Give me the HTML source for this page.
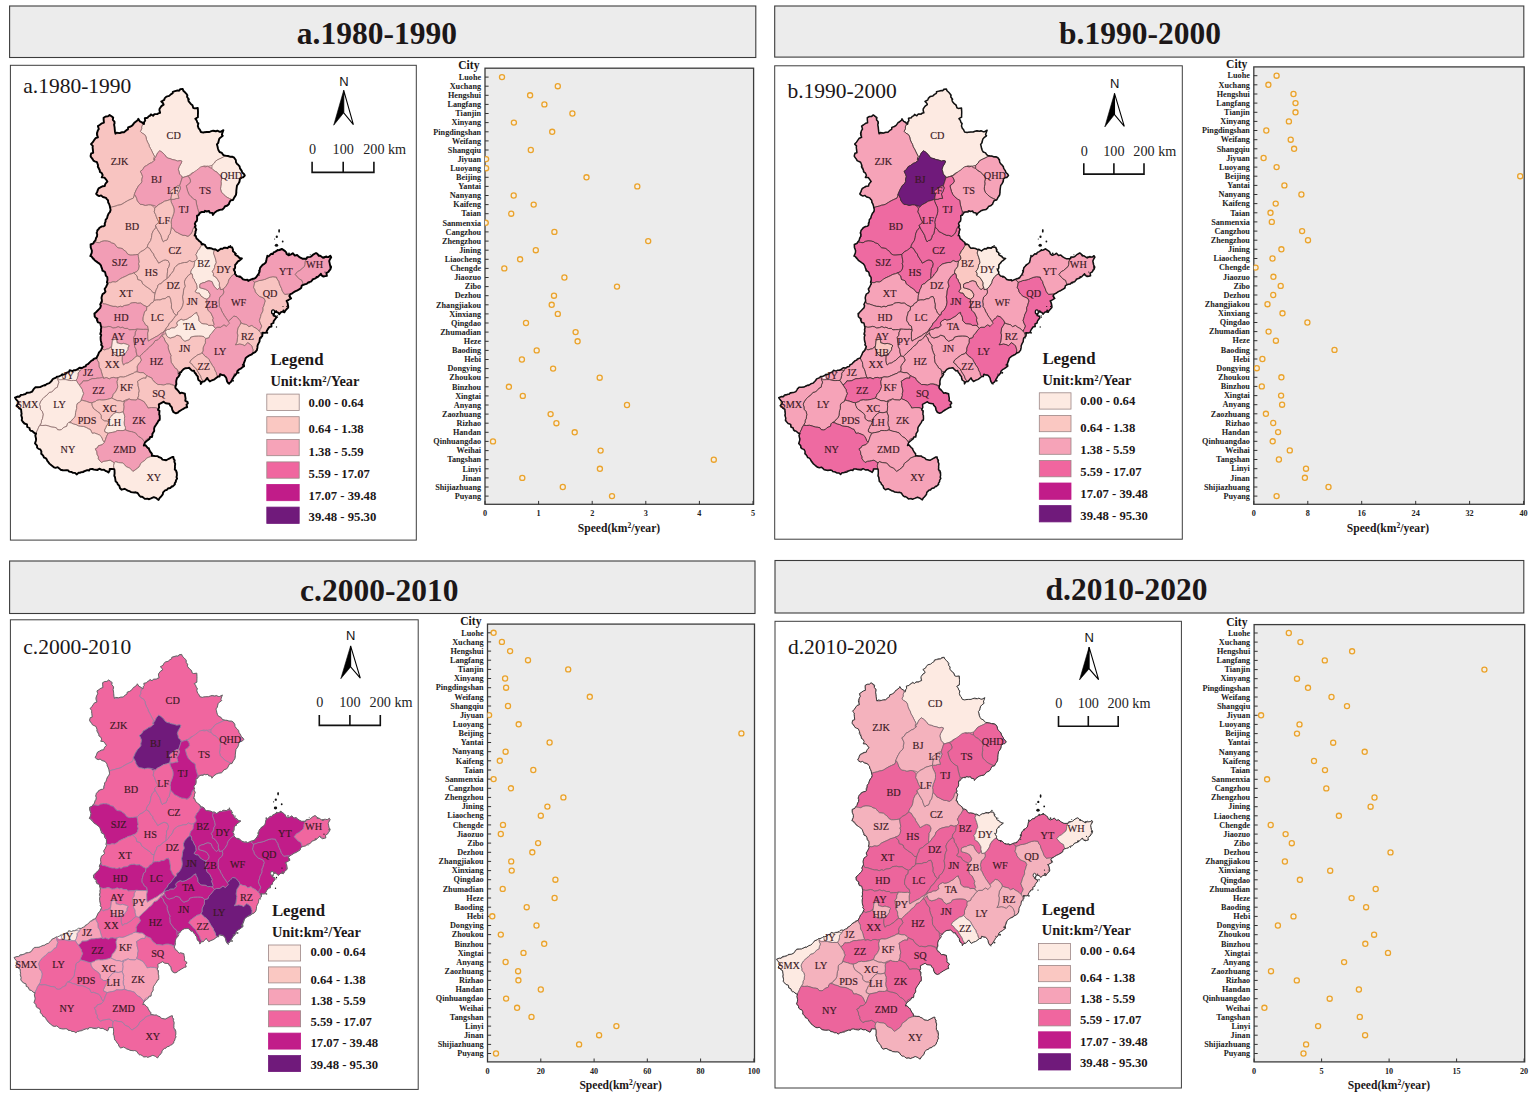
<!DOCTYPE html>
<html lang="en"><head><meta charset="utf-8"><title>Urban expansion speed 1980-2020</title>
<style>html,body{margin:0;padding:0;background:#fff}svg{display:block}.t{font-family:'Liberation Serif','Times New Roman',serif;font-weight:bold;fill:#1c1718}.r{font-family:'Liberation Serif','Times New Roman',serif;fill:#1c1718}.ml{font-family:'Liberation Serif','Times New Roman',serif;font-size:10.2px;fill:#3a1822;stroke:#3a1822;stroke-width:0.15;text-anchor:middle}.cl{font-family:'Liberation Serif','Times New Roman',serif;font-weight:bold;font-size:8.2px;fill:#222;text-anchor:end}.tk{font-family:'Liberation Serif','Times New Roman',serif;font-weight:bold;font-size:8.2px;fill:#222;text-anchor:middle}.lg{font-family:'Liberation Serif','Times New Roman',serif;font-weight:bold;font-size:12.7px;fill:#1c1718}.sbl{font-family:'Liberation Serif','Times New Roman',serif;font-size:14.2px;fill:#222;text-anchor:middle}.dot{fill:#f6efe4;stroke:#eaa32c;stroke-width:1.3}</style></head><body>
<svg width="1535" height="1101" viewBox="0 0 1535 1101">
<rect width="1535" height="1101" fill="#fff"/>
<defs>
<path id="m-outline" d="M92.8,149.2 92.6,147.4 92.8,145.9 91,144.1 92.8,142.2 94.5,139.6 95.5,138.2 97.9,137.3 97.1,135.3 96.9,133.3 97.8,130.6 98.8,129 97.9,126.1 99.6,125 101.9,123.3 103.9,122.7 103.6,119.2 103.6,117.7 105.7,116.5 107.9,116.4 109.6,114.9 111.5,116.3 113.2,117.5 112.8,119.8 114.5,121.7 114.6,123.2 114.1,124.6 114.6,127.4 114.7,128.8 115,131.7 115.5,133.7 116.5,132.6 119.7,133.1 121.2,132.5 122.1,132.3 124,132.3 124.6,131.8 126.4,130.2 128,129.3 128.1,127.4 130.7,126.5 132.4,125.4 133.7,123.6 134.5,122.5 135.1,122.3 137.9,120.1 138.3,118.8 139.9,121.4 141.9,122.3 143.9,124.1 144.2,121.8 145.2,120.7 144.8,118.3 147.6,117.8 148.5,116.4 149.9,115.9 150.9,114.4 153.1,115.8 154.4,114.1 157.7,114 158.2,113.3 160.1,112.8 159.4,110 159.6,108.7 161.4,106.1 163.6,104.6 163.1,103.2 161.3,101.5 164.2,99.9 164.6,98.4 166.4,96.6 169.2,95.9 170.8,94.4 172.7,93.3 172.8,91.8 175,91.1 177.5,90.4 179.1,90.7 180.1,89.2 182.7,88.9 183.3,90.7 185,92.3 186.7,94.2 187.4,95.2 187.1,97 188.9,99.3 188.2,99.6 188.7,101.4 190.8,103.9 192.5,105.2 193.2,107.8 194.6,108.4 197.8,108 198,111.5 198,113.1 197.9,115.1 197.9,117.2 195.3,118.7 196.6,120.3 197.4,122.7 198.4,123.3 197.8,125.9 198.7,128.5 199.7,129.4 200.9,132 203.4,132.6 204.3,132.2 206.8,132 209.5,132 211.3,131.2 213.2,130.7 215.9,131.3 217.3,130.7 219.3,131.7 220.5,131.8 223.4,130.2 222.2,133.5 221.9,134.8 222.8,135.8 220.3,137.7 219.2,138.9 218.6,141.3 218.3,142.8 216.9,144.4 217.4,146 217.9,148.3 218.5,150.3 219.6,152 221.9,152.9 222.9,154.6 224.1,155.4 226.5,155.9 228,156 229.9,156.7 232.6,156.8 234.2,157.7 235.8,160 236,162.2 237.1,163.9 238.2,164.8 239.6,166.4 240,168.4 241.7,170.9 242.2,172.5 244,174 244.8,175.5 243.1,177.4 242,177.4 239.8,178.9 239.7,180.5 239.5,181.7 238.3,183.9 237,185.5 236.6,188.3 236.3,191.2 236.4,192 236,194.8 235,196.5 234.3,197.3 233,200 230.6,200.4 229.3,202.8 229,204 227.4,205.5 224.8,206.5 223.9,208.1 222.4,209.5 219.7,209.9 218.2,210.5 217.6,210.6 214.5,212.8 212.9,215 212.4,213 209.7,212.6 209,211 206.7,211.5 205,210.8 204.3,212.1 202,211.9 200.1,212.8 198.5,215.3 197,215.7 197.2,218.8 196.8,221.1 195.6,222.1 194.8,223.8 195.7,225.9 194.8,226.8 196.3,229.4 195.4,231.8 195.5,232.7 194.6,235.6 195.7,235.7 196.5,238.6 198.1,239.8 199.2,241 201.2,242.5 201.5,244.2 203,244 205.2,245.2 205.6,246.4 207.2,248.2 209.2,248 211.8,248.5 213.4,249.4 215.3,249.3 217.8,251 219.4,249.7 221.1,248.6 222.5,248.9 224,247.6 225.6,247.7 227.5,248.2 228.7,246.8 231.3,247.2 232.2,247.5 232.8,249 232.9,251.3 234.9,252.7 235.2,254.6 235.8,255.2 237.8,256.1 239.5,258 241.9,258.5 238.9,260.9 238,261.4 235.9,264.1 235.2,264.7 235.1,267.9 233.9,270.1 235.1,272 234.9,273.6 236.9,276.1 239.7,276.4 241.3,277.5 243,279.4 245.3,279.9 247.6,279.7 248.2,280.9 250.7,279.6 253.2,278.6 254,278.7 256.1,277.5 256.2,277.1 258.1,274.6 259.6,271.7 259.7,270 260.1,267.8 261.5,266.2 262.7,264.6 263.8,264.2 265.8,262.5 266.4,260.3 266.6,258.7 267.2,256.7 268.6,256.3 271.1,253.8 272.8,254.1 273.6,252.4 275,251.9 277.4,250.4 279.4,250 282,249 282.9,249.6 285.1,251.1 286.2,252.3 286.6,253.9 288.6,255.3 291.1,254.4 292.8,253.2 294.8,255.6 297.1,255 298.8,256.6 300.4,257.7 302.4,258.7 303.4,258.8 306.5,258.7 307.2,257.1 310.3,256.9 311.1,256.5 313.6,254.3 316,253 317.4,253.9 319.1,255.8 320.3,255.8 323,257.7 323.7,257.5 326.4,256.5 326.9,257 328.6,257.1 330.3,255.7 331.2,257.2 329.6,260 329.2,261.1 329.6,262.9 330,265 331.1,267 330.4,269.3 329.3,270.6 328.6,271.8 326.4,273.1 326.9,275.8 325.2,276.2 323.5,276.6 321.2,275.1 320.9,273.8 318.2,276.6 317.3,277.2 315.5,278.3 312.6,279.3 312.6,279.8 310.9,281.7 308.2,282.4 306.7,283.9 304.8,284.3 303.3,284.8 301.7,285.6 301.2,288 299.5,289.1 296.9,290.7 295.1,291.4 292.9,292.8 292.3,293.4 290.5,294.1 289.3,296.1 291.1,298.4 288.7,299.8 286.7,300.9 287.6,303 288.2,306.2 288.2,307.5 286.2,309.7 285.4,310.5 284.4,312.3 282.6,311.7 281,312.2 279.3,314.2 278.5,312.8 276.4,311.8 274.2,312.1 273.5,312.5 273.8,314.5 273.6,315.6 275.9,316.3 276.2,317.8 274.7,319.8 273.7,321.1 273.4,323 271.3,324 271.5,326.6 269.3,327 267.7,329.4 266.8,331 266.5,332.5 265,332.9 262.6,332.8 262.3,336 261.5,336.8 260,338 259.6,340.3 259.5,341.6 258.5,343.4 257.7,345.2 257.5,345.8 257.4,347.9 256.9,350.1 255.2,352.2 252.7,353.3 251.8,354.4 248.9,355.7 247.8,356.4 246.9,357.1 245.6,358.2 245.1,360.1 243.7,363.6 244.1,366.1 242.4,367.3 240.7,368.7 238.8,369.7 237.4,371 237,373 234.9,375.6 233.9,376.2 233.5,377.5 232.5,378.9 231.6,380.8 230.7,382.2 228.5,383.6 227.1,381.4 226.5,379 226.5,378.6 225.9,377.3 224.2,375.3 222.3,375.1 220.1,374.2 219.6,376.5 218.1,376.5 214.8,379.1 213.9,379.6 211.9,380.3 209.8,381.5 208,379.4 207.3,377.9 205.3,380.4 204.3,381.4 202.2,381.7 200.8,383.9 200.6,381.5 198.4,380 197.8,377.8 197.9,376.7 196.1,374.7 196,374 194.6,372.5 193.9,370.6 192.3,370.9 190.7,369.5 189.2,367.8 187.6,368.1 185.5,368.2 183.6,369.1 181.7,371.1 181.1,372.2 179.1,373.3 179.9,374.3 178.6,376.6 177.1,378 176.4,380.2 176.2,381.9 176.4,384.2 175.6,386 175.4,387.9 176,388.5 177.1,389.5 178.4,391.1 180.1,393.3 181.6,392.7 184.9,393.7 185.1,395.6 185.6,398.7 185.3,400.6 187.6,402.1 187.9,403.4 186.5,404.6 187.2,407.2 185.5,407.5 182.9,409.1 182.1,409.5 179.8,411 179.3,411.2 178,412.5 175.9,413.3 173.5,412.2 172.5,410.3 172.3,410 171.8,407.3 170,405.3 169.5,403.7 169,403.7 165.7,403.3 164,402.2 163.8,401.7 161.6,402.9 158.8,404.4 159.1,407.3 158,409.9 159.5,410.8 159.2,414.5 159.7,415.5 159.8,418.9 159.6,420.2 158.7,420.2 157.4,422.9 156.4,424.2 155.9,425 154.5,427.1 154.1,428.8 154.2,430.9 152.3,433.9 152.4,435.1 152,437 150.1,436.9 149.6,438.7 147.4,440.5 146.3,441.3 144.9,442.7 143.8,445.5 145.4,445.1 147.7,447.8 148.9,448.4 149,449.3 150.4,452 151.9,453.7 151.8,455.7 152.9,455.7 155.3,456.1 157.7,456.1 158.6,457 161.1,457.9 162.5,459.6 165.2,460 166.2,460.3 168.8,458.8 172.2,457 173.4,456.9 173.5,458.6 174.7,460.3 174.4,461.8 175.2,463.8 174.9,466.5 175,467.4 174.8,469.6 176.1,470.6 176.8,472.5 176.9,475.4 176.5,477.2 177.1,478.4 175.9,480.4 175.9,481.6 174.7,483.4 174.9,484.4 172.6,486.5 171.9,486.3 170.3,488 167.9,488.5 166.8,490 165.4,490.1 163.1,492.4 162.8,494.3 162.2,495.2 160.6,497.1 159.8,497.7 158.6,499.9 157.2,498.9 156.4,498.2 153.8,497.2 151,498.4 148.7,499.3 147.5,498.6 144.8,498.9 143.1,497.4 141.7,496.6 140.7,496.8 139.3,495.6 137.6,493 135.6,492.3 134.4,492.5 130.9,492.1 130,491.4 127.7,490.7 126.7,490 124.6,488.8 121.7,489.7 120,488.2 119.3,485.7 117.7,484.2 117.2,482.8 115.6,481.4 115.4,479.9 115,477.2 114.3,475.9 114.6,473.2 114.5,470 114.2,469.1 111.4,468.9 109.7,469 109.7,470.4 108.5,472.4 106.5,471.1 105.7,471 104,469.7 101.6,469.9 99.4,468.7 97.3,470.1 93.9,469.6 92.3,469 89.9,469.1 89.1,470.6 87.3,470.1 84.1,471.4 83.3,472 80.7,472.4 79.9,472.8 78.4,472.8 76.9,474.4 75.1,472.9 73,472.9 71.6,472 69,471.6 68.3,470.4 66.9,470.1 64.2,470.4 62.8,470.2 60.5,469.7 59.2,468.4 57.7,467.2 55.6,467.8 53.9,467.3 51.4,465.3 49.4,463.6 48.4,462.2 47.3,460.8 46.7,459.4 45.7,458.1 43.9,457.5 43.3,455.9 41.8,454.1 41.2,453.8 41.4,451.5 40.3,449.4 38.6,448.9 37.1,447.6 37,445.7 35,443.4 35.9,440.7 36.1,439 35.3,435.6 36.1,433.4 34.7,433.3 32.2,431 30.9,430.9 29.8,429.9 29.5,428 27.2,427 27,424.4 24.4,423.5 22.6,421.5 21.7,420.3 22.1,418.1 21.2,415.2 21.6,413.7 21.3,412 21.1,409.3 19.2,408.4 17.9,406.5 16.5,405.8 18.5,403.1 18.6,402.3 17.9,401.5 15.7,398.8 15,397.6 17.9,396.5 19.5,396.7 20.9,394.9 23.1,394.6 25.6,394 26.6,392.8 29.7,392.6 32.1,391.6 33.3,389.8 33.6,389.1 35.3,387.3 37.7,387.2 40,387.1 41.6,386.3 44.6,385 44.8,385.5 47.2,383.8 49.4,383.1 51,381.5 51.9,380.5 52.6,379.3 53,378.9 56,377.6 56.9,376.6 58.5,376.6 60.9,375.5 62.3,374.3 62.7,374.8 65.6,373.8 66.3,372.9 69,371.8 69.7,370.2 72.5,371.1 74.1,370.2 75.6,370.2 77.8,369.2 78.4,368.6 79.5,367.8 82.1,368 84.1,366.7 85.7,366.4 86.1,365 88.3,363.9 89.4,362.6 91.5,360.6 92.8,360.1 93.7,358.9 96.5,358 97.7,355.5 97.9,355.3 99,352.4 101,350.4 101.4,349.4 102.6,346.6 101.1,344.8 101.7,343.9 100.9,341 100.7,339.6 100.6,337 101.2,335 100.3,334.1 101.1,331.1 100.8,329.8 101.3,327.8 100.9,326 100.2,322.9 97.9,322.4 96.8,319.7 97.4,318.9 95.8,317.8 94.7,316.7 94.4,313.6 95.7,312.6 97.2,311 98.8,309.3 100.2,307.9 100.9,305.8 100.2,304.5 101.9,301 101.8,299.6 101.5,298 101.9,296 102.6,294.1 104.2,293.2 105.5,291.6 104.6,289 106,287 107,284.8 107.7,283.8 106.9,282.3 107.5,279.9 107.3,277.2 105.8,275.6 105.3,273 104.9,271.9 102.4,270.7 102.2,269.2 101.6,267.7 100.9,265.4 99.4,263.6 97.9,262.6 96.9,261.9 94.6,260.3 93.9,259.1 93.3,258.8 91.2,256.2 90.3,256.1 91.7,252.8 91.9,250.7 91.3,249 90.7,247.4 90.6,244.5 93.5,243.3 93.8,242.2 95.4,240.4 96.1,237.8 97,236.4 97.2,234.4 96.6,233 97.2,231.2 97.3,230.5 99.4,228.1 99.2,228 101.8,226.4 103.7,226.2 104.8,225.4 104.7,223.3 105.5,221.7 105.6,219.8 107.1,218.1 107.5,216.2 108.7,213.3 109.9,212.1 110.6,209.9 110,207.3 109.8,206 108.9,203.5 108.2,202.6 108,200.2 106.8,199.1 106,197.9 102.9,197 101.1,195.4 99.2,196.1 97.3,195.1 96.1,193.9 97.3,191.7 97.6,190.5 98.6,188.3 100.4,187.4 102.5,186.2 104.8,186 105.1,184.5 105.7,183.4 107.4,181.5 105.9,179.3 104.5,177.6 101.7,177.4 102.7,175.2 101.7,173 99.9,171.9 99.7,170.2 98.4,167.8 97.8,166.8 98,165.1 96.9,162.2 94.8,161.3 93.4,160.6 92.8,159.4 90.7,156.6 90.6,155.7 91.2,153.3 93.2,152.8Z"/>
<clipPath id="mapclip"><path d="M92.8,149.2 92.6,147.4 92.8,145.9 91,144.1 92.8,142.2 94.5,139.6 95.5,138.2 97.9,137.3 97.1,135.3 96.9,133.3 97.8,130.6 98.8,129 97.9,126.1 99.6,125 101.9,123.3 103.9,122.7 103.6,119.2 103.6,117.7 105.7,116.5 107.9,116.4 109.6,114.9 111.5,116.3 113.2,117.5 112.8,119.8 114.5,121.7 114.6,123.2 114.1,124.6 114.6,127.4 114.7,128.8 115,131.7 115.5,133.7 116.5,132.6 119.7,133.1 121.2,132.5 122.1,132.3 124,132.3 124.6,131.8 126.4,130.2 128,129.3 128.1,127.4 130.7,126.5 132.4,125.4 133.7,123.6 134.5,122.5 135.1,122.3 137.9,120.1 138.3,118.8 139.9,121.4 141.9,122.3 143.9,124.1 144.2,121.8 145.2,120.7 144.8,118.3 147.6,117.8 148.5,116.4 149.9,115.9 150.9,114.4 153.1,115.8 154.4,114.1 157.7,114 158.2,113.3 160.1,112.8 159.4,110 159.6,108.7 161.4,106.1 163.6,104.6 163.1,103.2 161.3,101.5 164.2,99.9 164.6,98.4 166.4,96.6 169.2,95.9 170.8,94.4 172.7,93.3 172.8,91.8 175,91.1 177.5,90.4 179.1,90.7 180.1,89.2 182.7,88.9 183.3,90.7 185,92.3 186.7,94.2 187.4,95.2 187.1,97 188.9,99.3 188.2,99.6 188.7,101.4 190.8,103.9 192.5,105.2 193.2,107.8 194.6,108.4 197.8,108 198,111.5 198,113.1 197.9,115.1 197.9,117.2 195.3,118.7 196.6,120.3 197.4,122.7 198.4,123.3 197.8,125.9 198.7,128.5 199.7,129.4 200.9,132 203.4,132.6 204.3,132.2 206.8,132 209.5,132 211.3,131.2 213.2,130.7 215.9,131.3 217.3,130.7 219.3,131.7 220.5,131.8 223.4,130.2 222.2,133.5 221.9,134.8 222.8,135.8 220.3,137.7 219.2,138.9 218.6,141.3 218.3,142.8 216.9,144.4 217.4,146 217.9,148.3 218.5,150.3 219.6,152 221.9,152.9 222.9,154.6 224.1,155.4 226.5,155.9 228,156 229.9,156.7 232.6,156.8 234.2,157.7 235.8,160 236,162.2 237.1,163.9 238.2,164.8 239.6,166.4 240,168.4 241.7,170.9 242.2,172.5 244,174 244.8,175.5 243.1,177.4 242,177.4 239.8,178.9 239.7,180.5 239.5,181.7 238.3,183.9 237,185.5 236.6,188.3 236.3,191.2 236.4,192 236,194.8 235,196.5 234.3,197.3 233,200 230.6,200.4 229.3,202.8 229,204 227.4,205.5 224.8,206.5 223.9,208.1 222.4,209.5 219.7,209.9 218.2,210.5 217.6,210.6 214.5,212.8 212.9,215 212.4,213 209.7,212.6 209,211 206.7,211.5 205,210.8 204.3,212.1 202,211.9 200.1,212.8 198.5,215.3 197,215.7 197.2,218.8 196.8,221.1 195.6,222.1 194.8,223.8 195.7,225.9 194.8,226.8 196.3,229.4 195.4,231.8 195.5,232.7 194.6,235.6 195.7,235.7 196.5,238.6 198.1,239.8 199.2,241 201.2,242.5 201.5,244.2 203,244 205.2,245.2 205.6,246.4 207.2,248.2 209.2,248 211.8,248.5 213.4,249.4 215.3,249.3 217.8,251 219.4,249.7 221.1,248.6 222.5,248.9 224,247.6 225.6,247.7 227.5,248.2 228.7,246.8 231.3,247.2 232.2,247.5 232.8,249 232.9,251.3 234.9,252.7 235.2,254.6 235.8,255.2 237.8,256.1 239.5,258 241.9,258.5 238.9,260.9 238,261.4 235.9,264.1 235.2,264.7 235.1,267.9 233.9,270.1 235.1,272 234.9,273.6 236.9,276.1 239.7,276.4 241.3,277.5 243,279.4 245.3,279.9 247.6,279.7 248.2,280.9 250.7,279.6 253.2,278.6 254,278.7 256.1,277.5 256.2,277.1 258.1,274.6 259.6,271.7 259.7,270 260.1,267.8 261.5,266.2 262.7,264.6 263.8,264.2 265.8,262.5 266.4,260.3 266.6,258.7 267.2,256.7 268.6,256.3 271.1,253.8 272.8,254.1 273.6,252.4 275,251.9 277.4,250.4 279.4,250 282,249 282.9,249.6 285.1,251.1 286.2,252.3 286.6,253.9 288.6,255.3 291.1,254.4 292.8,253.2 294.8,255.6 297.1,255 298.8,256.6 300.4,257.7 302.4,258.7 303.4,258.8 306.5,258.7 307.2,257.1 310.3,256.9 311.1,256.5 313.6,254.3 316,253 317.4,253.9 319.1,255.8 320.3,255.8 323,257.7 323.7,257.5 326.4,256.5 326.9,257 328.6,257.1 330.3,255.7 331.2,257.2 329.6,260 329.2,261.1 329.6,262.9 330,265 331.1,267 330.4,269.3 329.3,270.6 328.6,271.8 326.4,273.1 326.9,275.8 325.2,276.2 323.5,276.6 321.2,275.1 320.9,273.8 318.2,276.6 317.3,277.2 315.5,278.3 312.6,279.3 312.6,279.8 310.9,281.7 308.2,282.4 306.7,283.9 304.8,284.3 303.3,284.8 301.7,285.6 301.2,288 299.5,289.1 296.9,290.7 295.1,291.4 292.9,292.8 292.3,293.4 290.5,294.1 289.3,296.1 291.1,298.4 288.7,299.8 286.7,300.9 287.6,303 288.2,306.2 288.2,307.5 286.2,309.7 285.4,310.5 284.4,312.3 282.6,311.7 281,312.2 279.3,314.2 278.5,312.8 276.4,311.8 274.2,312.1 273.5,312.5 273.8,314.5 273.6,315.6 275.9,316.3 276.2,317.8 274.7,319.8 273.7,321.1 273.4,323 271.3,324 271.5,326.6 269.3,327 267.7,329.4 266.8,331 266.5,332.5 265,332.9 262.6,332.8 262.3,336 261.5,336.8 260,338 259.6,340.3 259.5,341.6 258.5,343.4 257.7,345.2 257.5,345.8 257.4,347.9 256.9,350.1 255.2,352.2 252.7,353.3 251.8,354.4 248.9,355.7 247.8,356.4 246.9,357.1 245.6,358.2 245.1,360.1 243.7,363.6 244.1,366.1 242.4,367.3 240.7,368.7 238.8,369.7 237.4,371 237,373 234.9,375.6 233.9,376.2 233.5,377.5 232.5,378.9 231.6,380.8 230.7,382.2 228.5,383.6 227.1,381.4 226.5,379 226.5,378.6 225.9,377.3 224.2,375.3 222.3,375.1 220.1,374.2 219.6,376.5 218.1,376.5 214.8,379.1 213.9,379.6 211.9,380.3 209.8,381.5 208,379.4 207.3,377.9 205.3,380.4 204.3,381.4 202.2,381.7 200.8,383.9 200.6,381.5 198.4,380 197.8,377.8 197.9,376.7 196.1,374.7 196,374 194.6,372.5 193.9,370.6 192.3,370.9 190.7,369.5 189.2,367.8 187.6,368.1 185.5,368.2 183.6,369.1 181.7,371.1 181.1,372.2 179.1,373.3 179.9,374.3 178.6,376.6 177.1,378 176.4,380.2 176.2,381.9 176.4,384.2 175.6,386 175.4,387.9 176,388.5 177.1,389.5 178.4,391.1 180.1,393.3 181.6,392.7 184.9,393.7 185.1,395.6 185.6,398.7 185.3,400.6 187.6,402.1 187.9,403.4 186.5,404.6 187.2,407.2 185.5,407.5 182.9,409.1 182.1,409.5 179.8,411 179.3,411.2 178,412.5 175.9,413.3 173.5,412.2 172.5,410.3 172.3,410 171.8,407.3 170,405.3 169.5,403.7 169,403.7 165.7,403.3 164,402.2 163.8,401.7 161.6,402.9 158.8,404.4 159.1,407.3 158,409.9 159.5,410.8 159.2,414.5 159.7,415.5 159.8,418.9 159.6,420.2 158.7,420.2 157.4,422.9 156.4,424.2 155.9,425 154.5,427.1 154.1,428.8 154.2,430.9 152.3,433.9 152.4,435.1 152,437 150.1,436.9 149.6,438.7 147.4,440.5 146.3,441.3 144.9,442.7 143.8,445.5 145.4,445.1 147.7,447.8 148.9,448.4 149,449.3 150.4,452 151.9,453.7 151.8,455.7 152.9,455.7 155.3,456.1 157.7,456.1 158.6,457 161.1,457.9 162.5,459.6 165.2,460 166.2,460.3 168.8,458.8 172.2,457 173.4,456.9 173.5,458.6 174.7,460.3 174.4,461.8 175.2,463.8 174.9,466.5 175,467.4 174.8,469.6 176.1,470.6 176.8,472.5 176.9,475.4 176.5,477.2 177.1,478.4 175.9,480.4 175.9,481.6 174.7,483.4 174.9,484.4 172.6,486.5 171.9,486.3 170.3,488 167.9,488.5 166.8,490 165.4,490.1 163.1,492.4 162.8,494.3 162.2,495.2 160.6,497.1 159.8,497.7 158.6,499.9 157.2,498.9 156.4,498.2 153.8,497.2 151,498.4 148.7,499.3 147.5,498.6 144.8,498.9 143.1,497.4 141.7,496.6 140.7,496.8 139.3,495.6 137.6,493 135.6,492.3 134.4,492.5 130.9,492.1 130,491.4 127.7,490.7 126.7,490 124.6,488.8 121.7,489.7 120,488.2 119.3,485.7 117.7,484.2 117.2,482.8 115.6,481.4 115.4,479.9 115,477.2 114.3,475.9 114.6,473.2 114.5,470 114.2,469.1 111.4,468.9 109.7,469 109.7,470.4 108.5,472.4 106.5,471.1 105.7,471 104,469.7 101.6,469.9 99.4,468.7 97.3,470.1 93.9,469.6 92.3,469 89.9,469.1 89.1,470.6 87.3,470.1 84.1,471.4 83.3,472 80.7,472.4 79.9,472.8 78.4,472.8 76.9,474.4 75.1,472.9 73,472.9 71.6,472 69,471.6 68.3,470.4 66.9,470.1 64.2,470.4 62.8,470.2 60.5,469.7 59.2,468.4 57.7,467.2 55.6,467.8 53.9,467.3 51.4,465.3 49.4,463.6 48.4,462.2 47.3,460.8 46.7,459.4 45.7,458.1 43.9,457.5 43.3,455.9 41.8,454.1 41.2,453.8 41.4,451.5 40.3,449.4 38.6,448.9 37.1,447.6 37,445.7 35,443.4 35.9,440.7 36.1,439 35.3,435.6 36.1,433.4 34.7,433.3 32.2,431 30.9,430.9 29.8,429.9 29.5,428 27.2,427 27,424.4 24.4,423.5 22.6,421.5 21.7,420.3 22.1,418.1 21.2,415.2 21.6,413.7 21.3,412 21.1,409.3 19.2,408.4 17.9,406.5 16.5,405.8 18.5,403.1 18.6,402.3 17.9,401.5 15.7,398.8 15,397.6 17.9,396.5 19.5,396.7 20.9,394.9 23.1,394.6 25.6,394 26.6,392.8 29.7,392.6 32.1,391.6 33.3,389.8 33.6,389.1 35.3,387.3 37.7,387.2 40,387.1 41.6,386.3 44.6,385 44.8,385.5 47.2,383.8 49.4,383.1 51,381.5 51.9,380.5 52.6,379.3 53,378.9 56,377.6 56.9,376.6 58.5,376.6 60.9,375.5 62.3,374.3 62.7,374.8 65.6,373.8 66.3,372.9 69,371.8 69.7,370.2 72.5,371.1 74.1,370.2 75.6,370.2 77.8,369.2 78.4,368.6 79.5,367.8 82.1,368 84.1,366.7 85.7,366.4 86.1,365 88.3,363.9 89.4,362.6 91.5,360.6 92.8,360.1 93.7,358.9 96.5,358 97.7,355.5 97.9,355.3 99,352.4 101,350.4 101.4,349.4 102.6,346.6 101.1,344.8 101.7,343.9 100.9,341 100.7,339.6 100.6,337 101.2,335 100.3,334.1 101.1,331.1 100.8,329.8 101.3,327.8 100.9,326 100.2,322.9 97.9,322.4 96.8,319.7 97.4,318.9 95.8,317.8 94.7,316.7 94.4,313.6 95.7,312.6 97.2,311 98.8,309.3 100.2,307.9 100.9,305.8 100.2,304.5 101.9,301 101.8,299.6 101.5,298 101.9,296 102.6,294.1 104.2,293.2 105.5,291.6 104.6,289 106,287 107,284.8 107.7,283.8 106.9,282.3 107.5,279.9 107.3,277.2 105.8,275.6 105.3,273 104.9,271.9 102.4,270.7 102.2,269.2 101.6,267.7 100.9,265.4 99.4,263.6 97.9,262.6 96.9,261.9 94.6,260.3 93.9,259.1 93.3,258.8 91.2,256.2 90.3,256.1 91.7,252.8 91.9,250.7 91.3,249 90.7,247.4 90.6,244.5 93.5,243.3 93.8,242.2 95.4,240.4 96.1,237.8 97,236.4 97.2,234.4 96.6,233 97.2,231.2 97.3,230.5 99.4,228.1 99.2,228 101.8,226.4 103.7,226.2 104.8,225.4 104.7,223.3 105.5,221.7 105.6,219.8 107.1,218.1 107.5,216.2 108.7,213.3 109.9,212.1 110.6,209.9 110,207.3 109.8,206 108.9,203.5 108.2,202.6 108,200.2 106.8,199.1 106,197.9 102.9,197 101.1,195.4 99.2,196.1 97.3,195.1 96.1,193.9 97.3,191.7 97.6,190.5 98.6,188.3 100.4,187.4 102.5,186.2 104.8,186 105.1,184.5 105.7,183.4 107.4,181.5 105.9,179.3 104.5,177.6 101.7,177.4 102.7,175.2 101.7,173 99.9,171.9 99.7,170.2 98.4,167.8 97.8,166.8 98,165.1 96.9,162.2 94.8,161.3 93.4,160.6 92.8,159.4 90.7,156.6 90.6,155.7 91.2,153.3 93.2,152.8Z"/></clipPath>
<path id="m-CD" d="M143.7,124.1 144.6,121 145,118.4 147.5,117 149.8,115.7 152.4,114.9 154.1,114.5 157.4,114.3 158.3,113.3 160.1,112.5 159.4,110 159.3,108.5 161.3,106.3 163.4,104.9 162.9,103.1 161.6,101.2 164.7,98.1 166.5,96.6 168.8,95.5 171.6,93.3 173.1,91.8 176.2,91.3 179,90.5 182.5,89.1 183.9,91.1 186.5,93.9 186.8,96 188.6,99.1 188.9,101.7 190.7,103.9 192.3,105.4 193.2,107.7 197.5,108.2 197.8,111.2 198.1,113.1 198.2,115.1 197.6,117.1 195.3,118.6 196.9,120.3 198,123.2 198.1,125.8 199.5,128.1 201,131.8 204.5,132.3 208.1,131.5 211.3,131.1 214.6,131.5 217.3,131 220.8,131.5 223.3,130.5 222.9,133.7 222.6,135.9 220.5,137.7 219.2,139.2 218.4,141.3 217.9,143.5 217.6,145.7 217.7,148.5 219.7,151.1 221.6,152.9 223.9,154.1 226.3,155.9 226.3,155.9 224.1,156.6 221.7,157.9 219.3,159 217.4,159.9 215.5,161.2 214.5,163 212,165.4 212,165.4 208.1,166.3 205.8,166.1 204.1,165.9 201.1,167.6 199.6,168.7 197.8,170.3 195.6,172.1 193,172.6 190.8,173.7 189.3,175.3 185.9,176.5 185.9,176.5 183.4,177.3 181.7,176.7 181.7,176.7 179.5,174.2 179.1,171.9 178.3,169.3 179.2,166.6 181.3,162.9 181.9,161.2 180.3,160.6 177.7,161.1 175.1,160.1 172.1,159.5 170.2,158.6 168.1,158.2 166.3,157.1 164.7,154.7 161.9,152.1 159.8,150.8 157.7,152.8 156.7,154.8 155.6,157.3 153.7,159.4 153.7,159.4 154,157.4 154.5,156.4 153.2,153.9 152.2,151.9 151.4,150.1 150.4,148.3 149.3,146.4 148.9,144.6 147.5,142.1 146.4,139.3 146,136.9 144.7,134.6 142.1,133.1 140.4,131.4 141.7,128.7 141.6,126.9 142.6,124.4Z"/>
<path id="m-ZJK" d="M92.9,149.4 92.3,146.7 91.2,143.9 92.8,141.9 94.4,139.5 95.7,138.2 97.9,137.3 97.9,133.6 97.6,130.7 98.5,129 98.2,126.4 99.5,124.9 101.7,123.4 103.8,122.5 103.7,119.4 103.8,117.6 105.9,116.5 108,116.3 109.9,115.1 111.9,117.4 113.1,119.7 114,121.4 114.1,123.9 114.6,127.2 114.7,128.9 115,131.5 115.3,133.6 118.1,133.7 121.1,132.7 124.2,132.6 126.3,130.1 127.6,128.9 129.3,126.6 132.2,125.3 134,123 135.4,122 137.7,120.2 138.6,118.8 140.1,121.3 141.8,122.6 142.6,124.4 141.6,126.9 141.7,128.7 140.4,131.4 142.1,133.1 144.7,134.6 146,136.9 146.4,139.3 147.5,142.1 148.9,144.6 149.3,146.4 150.4,148.3 151.4,150.1 152.2,151.9 153.2,153.9 154.5,156.4 154,157.4 153.7,159.4 155.2,159.7 153.4,161.3 151.5,162.8 150,163.2 146.6,165.6 144.5,166.6 142.7,169.6 140.4,171.3 141.9,174.4 142.6,176.4 141.8,179.7 142,181.7 140.6,183.8 138.8,185.3 137.2,188.1 136.2,189.9 134.7,193.4 134.4,194.3 134.2,196 133.2,198.2 130,199.6 127.5,200.8 124.8,202.4 122,204.2 120.2,204.9 117.6,205.3 116,206 113,206.7 110.3,207.6 109.9,206 109.1,203.7 108.3,201.8 107.1,200 105.8,197.6 102.3,196.5 99.2,196 96.2,193.8 97.6,190.9 98.8,188.5 101.3,187.4 104.5,185.8 105.5,183.6 107.4,181.5 105.9,179.5 104.4,177.8 102,177.1 101.7,173.8 100.2,171.6 99.5,168.4 98.8,166.7 97.9,164.8 95.7,162.4 93.5,160.5 92.4,158.7 90.5,155.8 91.4,153.6 93.1,152.5Z"/>
<path id="m-QHD" d="M212,165.4 214.5,163 215.5,161.2 217.4,159.9 219.3,159 221.7,157.9 224.1,156.6 226.3,155.9 229,156.4 231.9,157.5 234.2,157.8 235.9,161.2 237.2,163.7 238.9,165.8 240.2,168.4 242.3,170.6 242.7,173 244.7,175.6 242.7,177.4 240,178.9 239.1,181.2 238.3,184 237.2,185.8 236.7,188.3 236.3,191 235.8,193.4 235.6,194.8 234.5,197.5 232.9,200 229.5,198.6 227,197.3 225.4,196.1 223.7,194.5 221.4,192.1 220.5,188.9 220.8,186.4 221.2,183.9 221,181.3 221.6,179 221.4,176.6 219.1,174.7 216.9,172.1 214.4,170.9 211.9,168.4Z"/>
<path id="m-TS" d="M187.5,176.3 190.3,175.1 192.7,173 194.8,171.4 196.6,170.3 198.7,168.5 200.7,166.9 203.1,166.3 205.4,166.9 207.7,166.2 209.8,167.7 211.9,168.4 214.4,170.9 216.9,172.1 219.1,174.7 221.4,176.6 221.6,179 221,181.3 221.2,183.9 220.8,186.4 220.5,188.9 221.4,192.1 223.7,194.5 225.4,196.1 227,197.3 229.5,198.6 232.9,200 230.7,202.1 228.5,204 227.3,205.4 224.9,207.5 222.4,209.2 219.8,209.8 217.3,210.7 214.7,212.7 213,214.8 211,212.9 208.9,211.9 206.9,211.3 204.2,211.1 201.9,211.8 198.7,212 197.9,209.6 197.3,207.2 196.5,204.1 196,200.2 193.7,199.1 191,196.7 189.2,194.7 187.8,191.6 187,188.8 186.2,185.7 188.5,184.1 190.4,181.9 190.3,180 189.3,177.5 187.5,176.3Z"/>
<path id="m-BD" d="M110.3,207.6 113,206.7 116,206 117.6,205.3 120.2,204.9 122,204.2 124.8,202.4 127.5,200.8 130,199.6 133.2,198.2 134.2,196 134.4,194.3 135.5,195.8 136.8,198.6 137.1,200.2 138.6,202.5 140.1,204.2 143,204.6 145.4,205.4 148.6,204.7 150.9,204.8 153.2,206.4 154.7,208.2 154.7,209.9 154.2,211.9 155.6,214.4 156.3,216.5 157.4,219.3 159.1,222.3 157.2,223.7 155.6,225.4 155.9,227.4 154.9,228.9 153.5,230.4 152.1,233.5 151.7,235.7 151.5,237.5 150.6,240.6 148.4,243.8 147.5,245.8 147.4,247.1 143.9,250.1 142.6,250.8 140.7,251.7 138.2,254.4 135.4,254.8 132.3,255.1 130,255.1 127.7,254.1 125.7,251.3 124,250.2 122.1,248.5 120.4,248.2 118,247.9 116.1,246.1 114.2,243.6 111.6,243 109.9,241.7 107.4,241.1 104.4,240.9 101.7,241.4 99.3,242.8 96.8,242.4 93.9,242 95.5,239.6 97.3,236.6 97.2,234 96.9,231.1 98.6,229.5 99.5,227.7 102.3,226.7 105,225.3 105.8,222.1 105.5,219.5 106.9,217.8 107.7,215.9 109,213.4 110.6,211.4Z"/>
<path id="m-SJZ" d="M93.9,242 96.8,242.4 99.3,242.8 101.7,241.4 104.4,240.9 107.4,241.1 109.9,241.7 111.6,243 114.2,243.6 116.1,246.1 118,247.9 120.4,248.2 122.1,248.5 124,250.2 125.7,251.3 127.7,254.1 130,255.1 132.3,255.1 135.4,254.8 138.2,254.4 138.4,256.6 138.8,259.2 139.3,262.1 138.5,263.6 139.3,266 138.6,269.2 136.9,271.6 133.8,272.9 131.7,273.8 129.1,274.4 127.2,275.5 125.1,276.5 122.4,277.7 119.7,279.1 118,280.8 115.6,282.1 112.9,281.8 110.3,282.8 107.2,282.1 107.4,279.7 107.1,277.1 105.8,274.2 104.6,272 103.2,270 101.5,267.6 99.2,265.5 97.8,262.6 95.8,261.4 94,259.1 92.9,257 90.4,255.9 91.5,253 91.8,250.8 91,248 90.8,244.7 93.2,243.3Z"/>
<path id="m-XT" d="M107.2,282.1 110.3,282.8 112.9,281.8 115.6,282.1 118,280.8 119.7,279.1 122.4,277.7 125.1,276.5 127.2,275.5 129.1,274.4 131.7,273.8 133.8,272.9 133.8,272.9 137.1,276 137.8,279.5 139.8,280 141.7,281 142.7,283.9 143.9,284.7 146,286.4 148.2,287.9 150.1,289.2 151.5,290.5 153,292.6 155.3,292.8 154.6,295.7 154.5,297.8 154.2,300.4 152.9,302.4 150.5,303.6 149.6,305.5 146.9,306.8 143.5,305.2 142.5,304.4 140.6,303.1 137.4,303.3 135.3,302.6 132.7,302.8 130.4,303.3 129.3,304.6 127,305.2 124.4,305.5 122.1,306.9 120.3,306.2 117.7,307.2 115.5,306.4 113,306.4 111.1,305.9 108.7,305.1 105.8,304.1 103.1,303.8 101.6,300.8 101.3,298.2 101.9,296 102.8,292.9 105.3,291.4 104.8,288.9 105.8,286.8 106.8,284.2Z"/>
<path id="m-HD" d="M101.6,300.8 103.1,303.8 105.8,304.1 108.7,305.1 111.1,305.9 113,306.4 115.5,306.4 117.7,307.2 120.3,306.2 122.1,306.9 124.4,305.5 127,305.2 129.3,304.6 130.4,303.3 132.7,302.8 135.3,302.6 137.4,303.3 140.6,303.1 142.5,304.4 143.5,305.2 146.9,306.8 146.5,310.4 144.6,311.7 144.2,313.7 143.4,316.4 143.1,317.9 143.1,320.9 144.4,322.5 145.5,324.8 147.7,326.1 148.4,329.9 146.1,329.3 143.5,329.4 139.9,329.3 137.1,329.1 134.8,329.6 131.9,329.7 129.2,329.9 127.7,328.4 124.8,328.5 122.2,327.2 120.7,327.8 118.2,326.7 115.7,327.7 113,328.1 110.8,326.8 108.8,326.4 106.4,327.1 104.1,327.3 100.9,326.4 98.6,326.7 98.7,323.4 97.8,320.2 97.5,318.7 94.7,316.4 95.6,312.5 97.7,310.5 100,307.8 100.4,304.9 101.7,301.3Z"/>
<path id="m-HS" d="M138.2,254.4 140.7,251.7 142.6,250.8 143.9,250.1 147.4,247.1 149.8,248.4 150.7,250 152,252.1 153.7,254 154.2,255.9 155.6,258 156.4,259.3 157.6,261.1 158.7,263.1 162,261.1 163.3,260.4 165.2,259.8 168.1,260.7 169.6,263.7 169,266.8 167.6,268.8 167.6,271.2 167.3,273.7 167.2,275.7 167.1,278.6 164.5,280.4 162.5,281.9 161.1,283.7 159.4,284.1 157.9,285.2 157.6,287.2 156.2,289.8 155.3,292.8 153,292.6 151.5,290.5 150.1,289.2 148.2,287.9 146,286.4 143.9,284.7 142.7,283.9 141.7,281 139.8,280 137.8,279.5 137.1,276 133.8,272.9 136.9,271.6 138.6,269.2 139.3,266 138.5,263.6 139.3,262.1 138.8,259.2 138.4,256.6 138.2,254.4Z"/>
<path id="m-CZ" d="M155.9,227.4 155.6,225.4 156.6,227.9 157.5,229.5 159.7,233.1 161.1,235.6 161.4,237.1 162.4,239.9 163.4,241.8 164.7,240.6 166.9,240 168.1,237.4 168.4,235.8 170,233.8 170.8,230.3 171.4,226.9 174.2,229.8 175.2,231.5 177.8,232.7 180.2,234.1 183,235.3 184.9,235.3 188,236.3 190.5,234.3 192.1,231.9 192.7,229.4 193.8,227.3 195.4,225.6 195.1,227.1 196.3,229.6 195.8,232.1 194.5,235.3 196.2,236.9 197.9,239.7 199.7,241.2 201.6,244 201.4,242.9 201.3,245.2 200.7,246.6 199.5,248.9 197.8,250.8 196.9,252.9 195.9,254.5 197.1,257.1 197.2,259.1 194.9,261.1 192.5,261.8 189.4,260.6 187.1,262.4 184.4,262.5 180.5,263.5 178.5,264.2 175.7,266.5 174.6,267.6 173.7,270.4 172.3,272.6 170.7,274 169.6,276.2 167.1,278.6 167.2,275.7 167.3,273.7 167.6,271.2 167.6,268.8 169,266.8 169.6,263.7 168.1,260.7 165.2,259.8 163.3,260.4 162,261.1 158.7,263.1 157.6,261.1 156.4,259.3 155.6,258 154.2,255.9 153.7,254 152,252.1 150.7,250 149.8,248.4 147.4,247.1 147.5,245.8 148.4,243.8 150.6,240.6 151.5,237.5 151.7,235.7 152.1,233.5 153.5,230.4 154.9,228.9 155.9,227.4Z"/>
<path id="m-DZ" d="M194.9,261.1 192.5,261.8 189.4,260.6 187.1,262.4 184.4,262.5 180.5,263.5 178.5,264.2 175.7,266.5 174.6,267.6 173.7,270.4 172.3,272.6 170.7,274 169.6,276.2 167.1,278.6 164.5,280.4 162.5,281.9 161.1,283.7 159.4,284.1 157.9,285.2 157.6,287.2 156.2,289.8 155.3,292.8 154.6,295.7 154.5,297.8 154.2,300.4 156.5,300 158.5,299.9 160,300 162.6,298.9 165.1,298.7 167.1,297 169.3,296.5 170.6,299.3 170.9,302.1 171.5,304.3 171.3,308 172.7,310.3 173.5,312.8 175,314 175.9,315.5 177.4,314.7 177.8,312.1 180.2,310.3 181.7,307.9 182.9,305.1 183.4,302.1 183,299.3 182.6,296.8 183.3,294.1 183.5,290.9 184.2,288.4 185.4,286.2 184.7,283.8 184.4,281.9 185.4,279.5 186.2,278.1 188.4,275.4 190.8,273.7 190.9,271.7 191.6,269.6 193.1,267.9 194.2,266.2 194.4,263.9 194.9,261.1Z"/>
<path id="m-LC" d="M154.2,300.4 156.5,300 158.5,299.9 160,300 162.6,298.9 165.1,298.7 167.1,297 169.3,296.5 170.6,299.3 170.9,302.1 171.5,304.3 171.3,308 172.7,310.3 173.5,312.8 175,314 175.9,315.5 173.5,318.7 171.8,321.2 169.5,323 168.2,325.9 166.4,327.9 163.9,331.5 162.6,332.6 160.3,333.8 157.9,335.8 155.4,337 152.9,338.5 150.9,339.5 148.3,341.2 147.7,338.9 147.7,336.2 147.6,333 148.4,329.9 147.7,326.1 145.5,324.8 144.4,322.5 143.1,320.9 143.1,317.9 143.4,316.4 144.2,313.7 144.6,311.7 146.5,310.4 146.9,306.8 149.6,305.5 150.5,303.6 152.9,302.4 154.2,300.4Z"/>
<path id="m-BZ" d="M200.7,246.6 201.9,245.4 204.2,244.1 205.3,246 207.1,247.9 209.2,248 211.8,248.5 214.5,249.9 213.5,253 214,254.4 215.2,257.8 215.9,260.3 216.3,262.8 214.9,265.3 214.6,267.6 213.7,269.6 212.3,271.3 213.5,273.6 213.3,275.7 216.1,277.3 217.9,279.9 219.5,282.8 219.3,285.2 219.9,287.3 217.4,289.8 215.9,288.2 214.5,286.8 213.1,284.5 212,281.6 208.9,280.8 206,281.6 205,282.5 202.9,282.8 200.1,284 199.8,285.7 199.8,287.6 201.7,288.2 205.4,289.2 208.1,290.8 210.2,294.5 209.7,297.1 206.9,299.3 204.2,298.3 201,296.1 199.3,293.2 197.1,293.1 195,291.6 197,288.5 196.7,285.3 196.3,283.9 194.9,281.6 194.1,279.4 192.7,277.9 192.6,276.1 192,273.8 190.8,273.7 190.9,271.7 191.6,269.6 193.1,267.9 194.2,266.2 194.4,263.9 194.9,261.1 197.2,259.1 197.1,257.1 195.9,254.5 196.9,252.9 197.8,250.8 199.5,248.9Z"/>
<path id="m-DY" d="M214.5,249.9 217.8,250.8 219.6,249.2 222.5,248.8 225.3,248.4 227.6,247.9 231.1,247.1 232.4,249 233.2,251.2 234.8,252.7 235.3,254.5 237.4,256.8 239.3,258 241.7,258.5 239.1,260.6 237.9,261.5 236.1,263.8 235.3,264.9 235,267.8 234,270 235,272 235.1,273.7 233.3,274.7 231,276.7 229,279.6 228.4,281.4 228.2,282.7 226,286.2 223.2,289.2 220.3,289.7 219.9,287.3 219.3,285.2 219.5,282.8 217.9,279.9 216.1,277.3 213.3,275.7 213.5,273.6 212.3,271.3 213.7,269.6 214.6,267.6 214.9,265.3 216.3,262.8 215.9,260.3 215.2,257.8 214,254.4 213.5,253Z"/>
<path id="m-WF" d="M223.2,289.2 226,286.2 228.2,282.7 228.4,281.4 229,279.6 231,276.7 233.3,274.7 235.1,273.7 237,275.9 239.5,276.6 241.2,277.7 243,279.4 245.2,280.1 248.1,280.6 250.8,279.7 251.8,279.7 254.6,282.1 254.2,285.2 253.5,287.3 255.1,290 255.4,291.8 256.9,293.9 259.4,296.3 261.1,296.9 264.1,298.3 265.4,301 264.7,302.7 263.9,305.8 263,307.5 263.1,310.3 262.4,312.1 261.1,314.6 260.7,316.5 260,318.7 259.4,320.4 260.3,323.1 261.8,326 260.9,328.4 260.1,329.6 259.6,331.7 257.6,329.4 256,328.3 253.6,327 251.9,325.5 248.9,326.7 246.8,324.8 245.4,324.4 243.3,324 240.9,322.9 240.1,320.8 239.1,319.4 236.3,316.7 233.8,316.1 232,317.9 231,319 228.9,320.8 226.9,322.9 227.8,320.7 225.6,317.5 224,315.2 223.2,313.4 222.2,312.1 220.7,308.4 219.2,306.5 219.4,304 219.1,302.8 219,300.6 219.9,297 222.7,294.7 223.8,292.1Z"/>
<path id="m-QD" d="M254.6,282.1 257.2,281.4 258.8,280.6 260.9,280.3 264.8,279.4 267.9,278 270.2,277.2 272.8,276.7 276.5,277.1 277.2,279.1 278.9,281.4 279.4,283.6 280.1,285.4 281.6,288.6 282.3,290.9 282.8,291.8 284.8,294.4 287.8,294 290.3,293.9 289.5,296 290.8,298.3 288.8,299.8 286.9,301.2 287.7,304.9 288.1,307.5 285.7,310 284.2,312.1 281.4,312.8 279.2,313.9 276.5,311.6 273.4,312.5 273.9,315.7 276.4,318 275,321.1 273.4,323 271.7,325.2 269.4,327.3 268.1,330.1 266.4,332.3 264.8,332.8 262.6,333.1 261.2,334.3 260.5,332.6 259.6,331.7 260.1,329.6 260.9,328.4 261.8,326 260.3,323.1 259.4,320.4 260,318.7 260.7,316.5 261.1,314.6 262.4,312.1 263.1,310.3 263,307.5 263.9,305.8 264.7,302.7 265.4,301 264.1,298.3 261.1,296.9 259.4,296.3 256.9,293.9 255.4,291.8 255.1,290 253.5,287.3 254.2,285.2Z"/>
<path id="m-YT" d="M251.8,279.7 253.7,278.6 255.9,277.7 256.5,276.8 258.2,274.6 259.3,271.9 259.5,269.9 260.2,267.9 261.5,266.2 263.2,264.2 265.5,262.6 266,260.3 267.2,256.7 269.5,255.3 272.5,253.8 274.5,252.1 277.2,250.4 279.3,249.9 281.8,249 283,249.8 285.1,251.1 286.7,252.7 288.6,255 291,254.4 293,253.5 294.9,255.3 297,255.3 299.4,257 302.1,258.5 303.6,258.6 306.4,258.7 305.2,261.8 305.1,264.4 304.4,266.6 302.3,268.4 299.9,270.5 297.6,271.6 295.3,274.5 298.1,277.6 299.3,278.9 302,280.4 302.6,282.4 303.5,285 301.4,287.1 299.4,288.9 297,290.4 295.2,291.3 293,292.7 290.3,293.9 287.8,294 284.8,294.4 282.8,291.8 282.3,290.9 281.6,288.6 280.1,285.4 279.4,283.6 278.9,281.4 277.2,279.1 276.5,277.1 272.8,276.7 270.2,277.2 267.9,278 264.8,279.4 260.9,280.3 258.8,280.6 257.2,281.4 254.6,282.1Z"/>
<path id="m-WH" d="M306.4,258.7 308.5,257.7 311.1,256.2 313.4,254.4 315.7,253.1 317.3,254.1 319.2,255.7 322,256.4 323.8,257.5 326.6,257.4 329.2,256.3 330.6,255.9 329.8,258.8 329.3,261.3 329.7,265.1 330.9,267.2 329,269.9 328.4,271.9 326.8,275.1 325.2,276.5 322.9,275.3 320.7,274.1 318.4,276.3 317.2,277.1 315.4,278.2 312.9,279.3 311.2,281.6 308.4,282.5 306.8,283.8 303.5,285 302.6,282.4 302,280.4 299.3,278.9 298.1,277.6 295.3,274.5 297.6,271.6 299.9,270.5 302.3,268.4 304.4,266.6 305.1,264.4 305.2,261.8Z"/>
<path id="m-RZ" d="M240.9,322.9 243.3,324 245.4,324.4 246.8,324.8 248.9,326.7 251.9,325.5 253.6,327 256,328.3 257.6,329.4 259.6,331.7 260.5,332.6 261.2,334.3 261.7,337.6 260.8,339.1 260.8,341.6 260.3,344.2 258.8,346.5 257,348.3 256.8,350.3 255.9,352.4 252.7,353.4 253,349.8 252.4,348.1 251.8,346 250,344.2 247.6,342.7 246.3,344.2 244.8,345.8 242.4,344.6 239.8,344.1 237.2,344.6 235.3,344.9 236.9,342.2 237.3,339 237.5,337.6 237.8,335 237.1,333 237.6,330 237.9,328 239.7,325.3Z"/>
<path id="m-LYi" d="M226.9,322.9 228.9,320.8 231,319 232,317.9 233.8,316.1 236.3,316.7 239.1,319.4 240.1,320.8 240.9,322.9 239.7,325.3 237.9,328 237.6,330 237.1,333 237.8,335 237.5,337.6 237.3,339 236.9,342.2 235.3,344.9 237.2,344.6 239.8,344.1 242.4,344.6 244.8,345.8 246.3,344.2 247.6,342.7 250,344.2 251.8,346 252.4,348.1 253,349.8 252.7,353.4 249,355.4 246.9,357.2 245.6,358.5 244.9,360.3 243.7,363.4 243.8,365.9 242.3,367.3 240.8,368.8 238.9,369.9 237.4,371.1 236.7,373.1 235,375.4 233.9,377 232.6,379.2 230.8,381.3 228.7,383.5 227.4,381.4 226.6,379.2 225.9,377.6 224.3,375.2 220.4,374.2 219.4,376.3 217.8,376.8 216.7,374.9 216.1,372.4 214.8,370.2 214.3,368.2 212.1,365.1 210.9,362.9 210.1,361.8 209.1,359.6 207.4,357.7 205,356.3 203.4,354.2 201.9,353 203,351 203,348 204,345.5 205.4,342.9 205.3,340.7 205.7,338.5 209,337.6 209.8,335.2 211.7,333.2 213.3,331 215.3,328 217.3,327.2 220.7,327.2 224,324.7 226.4,326.3Z"/>
<path id="m-JNg" d="M165.6,333.1 166.8,335.9 168.2,337.2 170.3,338 173.3,337.1 174.8,336.6 177,335.1 180.6,336.2 182.1,339 184.9,341.2 189.5,339.5 190.8,337 194.8,336.1 198.6,335.9 201.5,336 204,336.7 205.7,338.5 205.3,340.7 205.4,342.9 204,345.5 203,348 203,351 201.9,353 200.4,354 198,354.7 196.6,355.7 194.1,357.6 191,360 189.8,362.5 191.8,363.8 193.1,365.6 194.6,367.4 196.7,369 197.6,371.2 199.2,373.7 200.8,376.2 201.2,378 203,380.9 200.8,383.7 199.4,381.2 198,378.1 197.4,376.5 196,373.9 194.7,372.4 192.4,370.7 190.7,369.3 189.1,367.8 185.5,368.5 182.9,370.3 181,371.9 177.8,371.1 177,369.2 175,368.1 174,366.4 172.9,364.8 171.1,362.2 170.9,359.3 170.6,357 171,355.4 169.7,352.8 168.8,350.2 168.1,347.7 168.2,345.2 166.8,343.4 165,341 163.9,337.7 161.5,335.6 163.1,335Z"/>
<path id="m-ZZa" d="M203,380.9 201.2,378 200.8,376.2 199.2,373.7 197.6,371.2 196.7,369 194.6,367.4 193.1,365.6 191.8,363.8 189.8,362.5 191,360 194.1,357.6 196.6,355.7 198,354.7 200.4,354 201.9,353 203.4,354.2 205,356.3 207.4,357.7 209.1,359.6 210.1,361.8 210.9,362.9 212.1,365.1 214.3,368.2 214.8,370.2 216.1,372.4 216.7,374.9 217.8,376.8 215.1,378.9 213.9,379.6 210,381.3 208.2,379.5 207.1,378.1 204.3,381.2Z"/>
<path id="m-HZ" d="M161.5,335.6 163.9,337.7 165,341 166.8,343.4 168.2,345.2 168.1,347.7 168.8,350.2 169.7,352.8 171,355.4 170.6,357 170.9,359.3 171.1,362.2 172.9,364.8 174,366.4 175,368.1 177,369.2 177.8,371.1 177.9,373.6 178.5,376.5 177.3,378.2 176.7,380.4 176.2,382.9 175.3,385.8 171.6,384.3 169.3,384 166.6,384.1 163.7,385.1 160.2,384.5 157.9,384.6 155.7,382.9 154.2,381.8 152.3,379.4 151.8,378 148.7,376.7 146.5,375.5 145.5,374.4 143.2,372.7 140.3,372.7 136.8,371.8 137.3,369.1 137,366.9 137.6,365.5 138.8,363.6 140.1,362.2 141.4,360 139.7,356.4 141,355.2 143.3,352.7 145.2,351 146.5,350 148.6,347.7 150.4,345.9 152.2,344.7 153.6,342.9 155,340.7 157.9,339.7 159.4,338.2Z"/>
<path id="m-TA" d="M165,330.8 167.4,329.5 169.6,329.1 171.4,327.8 174.6,327.7 177.4,325.4 176.5,323 178.1,320.9 181.2,319.2 183.1,320 185.2,319.6 187.1,319 189,317.7 191.4,316.4 193,315.1 194.8,313.3 196.8,312.3 197.2,314.3 198.3,316 198.8,317.8 199.1,320.6 201.5,323.3 202.9,323.7 205.3,323.8 207.1,324.1 208.8,325.4 211.5,325.2 213.3,325.7 215.5,328.4 213.3,331 211.7,333.2 209.8,335.2 209,337.6 205.7,338.5 204,336.7 201.5,336 198.6,335.9 194.8,336.1 190.8,337 189.5,339.5 184.9,341.2 182.1,339 180.6,336.2 177,335.1 174.8,336.6 173.3,337.1 170.3,338 168.2,337.2 166.8,335.9 165.7,332.8Z"/>
<path id="m-JNa" d="M192,273.8 192.6,276.1 192.7,277.9 194.1,279.4 194.9,281.6 196.3,283.9 196.7,285.3 197,288.5 195,291.6 197.1,293.1 199.3,293.2 201,296.1 204.2,298.3 206.9,299.3 206.9,303.1 207,305.4 207.3,307.3 208,310.1 209.4,311.7 210.8,312.7 212.3,316 213.4,318.2 212.7,319.9 213.7,322.8 214.2,324.4 213.3,325.7 211.5,325.2 208.8,325.4 207.1,324.1 205.3,323.8 202.9,323.7 201.5,323.3 199.1,320.6 198.8,317.8 198.3,316 197.2,314.3 196.8,312.3 194.8,313.3 193,315.1 191.4,316.4 189,317.7 187.1,319 185.2,319.6 183.1,320 181.2,319.2 178.1,320.9 176.5,323 177.4,325.4 174.6,327.7 171.4,327.8 169.6,329.1 167.4,329.5 165,330.8 166.4,327.9 168.2,325.9 169.5,323 171.8,321.2 173.5,318.7 175.9,315.5 177.4,314.7 177.8,312.1 180.2,310.3 181.7,307.9 182.9,305.1 183.4,302.1 183,299.3 182.6,296.8 183.3,294.1 183.5,290.9 184.2,288.4 185.4,286.2 184.7,283.8 184.4,281.9 185.4,279.5 186.2,278.1 188.4,275.4 190.8,273.7Z"/>
<path id="m-ZB" d="M206.9,299.3 209.7,297.1 210.2,294.5 208.1,290.8 205.4,289.2 201.7,288.2 199.8,287.6 199.8,285.7 200.1,284 202.9,282.8 205,282.5 206,281.6 208.9,280.8 212,281.6 213.1,284.5 214.5,286.8 215.9,288.2 217.4,289.8 219.9,287.3 220.3,289.7 223.2,289.2 223.8,292.1 222.7,294.7 219.9,297 219,300.6 219.1,302.8 219.4,304 219.2,306.5 220.7,308.4 222.2,312.1 223.2,313.4 224,315.2 225.6,317.5 227.8,320.7 229.5,323.2 226.4,326.3 224,324.7 220.7,327.2 217.3,327.2 215.5,328.4 213.3,325.7 214.2,324.4 213.7,322.8 212.7,319.9 213.4,318.2 212.3,316 210.8,312.7 209.4,311.7 208,310.1 207.3,307.3 207,305.4 206.9,303.1Z"/>
<path id="m-AY" d="M98.6,326.7 100.9,326.4 104.1,327.3 106.4,327.1 108.8,326.4 110.8,326.8 113,328.1 115.7,327.7 118.2,326.7 120.7,327.8 122.2,327.2 124.8,328.5 127.7,328.4 129.2,329.9 131.9,329.7 134.8,329.6 137.1,329.1 135.4,332.2 135.2,335.2 133.6,337.3 133.9,341 134.4,343.4 134.7,346.7 136.1,349.4 136.2,351.9 137.2,355.8 134.2,358 132.4,360.1 129.8,361.6 127.9,363 125.7,363.3 123.4,365.1 122.5,362.7 122.1,360.7 122.2,357.3 122.3,354.9 123.4,354.7 125.2,353.6 126.4,351.7 127.8,349.7 128,347.1 129.3,345.9 127.8,344.7 125,343.8 123.5,343.4 121.2,343.9 117,342.8 116.9,340.8 115.9,339.1 112.4,340.2 112.2,342.9 111.7,346.3 108.7,348.8 106.5,349.2 104.3,350 101.8,348.5 102.4,346.8 101.3,344.7 101,341.1 100.5,338.6 101,335.1 101.1,332 101,329.7 101,327.5 99.7,325.4 98.7,323.4Z"/>
<path id="m-XX" d="M99.2,352.6 100.9,351.2 101.8,348.5 104.3,350 106.5,349.2 108.7,348.8 111.7,346.3 111.4,347.9 112.7,350.6 113.3,353 114.9,354.7 117.1,355.9 117.9,356.1 122.3,354.9 122.2,357.3 122.1,360.7 122.5,362.7 123.4,365.1 125.7,363.3 127.9,363 129.8,361.6 132.4,360.1 134.2,358 137.2,355.8 139.7,356.4 141.4,360 140.1,362.2 138.8,363.6 137.6,365.5 137,366.9 137.3,369.1 136.8,371.8 134.6,372.3 133.3,373.4 131.7,373.9 127.5,375.7 125.4,376.6 123.6,377.1 120.3,376.9 118.1,377.6 116,378.1 113.6,377.4 111.1,377.8 109.5,378.9 106.3,377.6 103.9,378.4 102.5,375.9 101.3,371.5 100.7,369.4 99.1,367 98.9,364.5 98.8,362.7 97.3,360.1 96.3,357.4 97.8,355.2Z"/>
<path id="m-PY" d="M137.1,329.1 139.9,329.3 143.5,329.4 146.1,329.3 148.4,329.9 147.6,333 147.7,336.2 147.7,338.9 148.3,341.2 150.9,339.5 152.9,338.5 155.4,337 157.9,335.8 160.3,333.8 162.5,332.5 164.4,331.4 163.2,333.1 161.5,335.6 159.4,338.2 157.9,339.7 155,340.7 153.6,342.9 152.2,344.7 150.4,345.9 148.6,347.7 146.5,350 145.2,351 143.3,352.7 141,355.2 139.7,356.4 137.2,355.8 136.2,351.9 136.1,349.4 134.7,346.7 134.4,343.4 133.9,341 133.6,337.3 135.2,335.2 135.4,332.2Z"/>
<path id="m-HB" d="M112.4,340.2 115.9,339.1 116.9,340.8 117,342.8 121.2,343.9 123.5,343.4 125,343.8 127.8,344.7 129.3,345.9 128,347.1 127.8,349.7 126.4,351.7 125.2,353.6 123.4,354.7 122.3,354.9 117.9,356.1 117.1,355.9 114.9,354.7 113.3,353 112.7,350.6 111.4,347.9 111.7,346.3 112.2,342.9Z"/>
<path id="m-JZ" d="M96.3,357.4 97.3,360.1 98.8,362.7 98.9,364.5 99.1,367 100.7,369.4 101.3,371.5 102.5,375.9 103.9,378.4 100.8,378.3 97.2,378.2 95.2,378.6 92.2,378.7 90.1,379.6 88.1,380.7 85.2,381 83.2,380.9 81.6,383.3 79.3,385 77.9,383.1 76.3,380.5 75.5,381 77.2,378.4 78,375.3 78,373.1 80.4,370.5 82,367.7 83.8,365.9 86.3,365 88.8,363.3 91.4,360.8 94.4,359.7Z"/>
<path id="m-JY" d="M62.2,374.5 64,373.2 66.5,372.4 67.5,370.9 69.8,370.4 73.9,370.5 77.5,370.1 80.4,370.5 78,373.1 78,375.3 77.2,378.4 75.5,381 73.4,380.4 71.2,380.8 69.1,379.9 66.3,380 63.9,379.8 62.6,377.4Z"/>
<path id="m-ZZh" d="M83.2,380.9 85.2,381 88.1,380.7 90.1,379.6 92.2,378.7 95.2,378.6 97.2,378.2 99.2,378.1 102.3,377.5 103.9,378.4 106.3,377.6 109.5,378.9 111.1,377.8 113.6,377.4 116,378.1 118.1,377.6 117.9,379.3 117.1,381.3 117.3,383.5 117.8,386.5 117.4,388.1 116.1,390.9 115.3,392.1 113.3,394.3 112.9,395.7 111.8,398.1 107.8,399.3 103.9,400 101.5,400.1 99.8,399.8 96.7,400.4 95.3,401.6 91.7,402.8 89.1,402.4 86.2,401.3 84,400.8 81.7,400 80.6,401.4 81.9,397.6 82.7,395.6 83.6,393.4 82.7,391.6 82.3,389.5 80.6,387 79.3,385 81.6,383.3Z"/>
<path id="m-KF" d="M118.1,377.6 120.3,376.9 123.6,377.1 125.4,376.6 127.5,375.7 131.7,373.9 133.3,373.4 134.6,372.3 136.8,371.8 140.3,372.7 143.2,372.7 145.5,374.4 146.5,375.5 146,378.2 143.2,378.1 141.3,378.9 137.5,381.4 138.1,383.7 138.1,385.7 138.7,388 139.3,390.9 138.6,393.5 138.7,395.7 137.5,398.7 136.3,400.1 134.1,400 131,399.8 129.1,398.9 125.6,399.9 122.5,401.6 120.1,400.8 117.3,400.7 113.6,399 111.8,398.1 112.9,395.7 113.3,394.3 115.3,392.1 116.1,390.9 117.4,388.1 117.8,386.5 117.3,383.5 117.1,381.3 117.9,379.3Z"/>
<path id="m-SQ" d="M137.5,398.7 138.7,395.7 138.6,393.5 139.3,390.9 138.7,388 138.1,385.7 138.1,383.7 137.5,381.4 141.3,378.9 143.2,378.1 146,378.2 146.5,375.5 148.7,376.7 151.8,378 152.3,379.4 154.2,381.8 155.7,382.9 157.9,384.6 160.2,384.5 163.7,385.1 166.6,384.1 169.3,384 171.8,384.8 173.8,385.5 175.3,387.7 176.1,390 178.7,391 181.6,392.9 182.9,393.9 185.7,394 185.4,395.9 186,398.7 187.4,401.8 189,403.7 187.7,405.1 187.4,407.4 184.9,408.9 182.1,409.4 180.9,410.9 178.8,412.6 175,413.8 174.4,411.9 172.5,410 172,406.8 170.5,405.1 166.4,403.9 165.3,403.7 163.6,403 161.8,404.2 160.1,405.5 159,408.9 155.3,407.7 151.3,407.6 148,408.1 147.4,406.7 146.2,404.8 145,403.2 144.2,401.8 140.5,399.8Z"/>
<path id="m-ZK" d="M124.4,401.4 126.8,400.5 129.1,398.9 131,399.8 134.1,400 136.3,400.1 137.5,398.7 140.5,399.8 144.2,401.8 145,403.2 146.2,404.8 147.4,406.7 148,408.1 151.3,407.6 155.3,407.7 159,408.9 158.9,411.9 160.1,414.4 160.8,416.7 160.8,419.2 159.2,421.5 157.4,423.1 156.7,424.9 154.6,427.1 154.5,429.5 154,432.6 152.2,434.9 151.6,436.5 148.7,438.2 146.4,439.2 145.5,440.5 145.2,443 143.2,440.1 141.2,437.9 138.9,436.8 137.2,435.1 135.4,432.9 133.4,432.3 131.4,431.6 129.1,431.3 125.3,429.9 125.4,427.3 124.4,425.2 124.1,422.2 124.6,419.9 124.4,418.4 124.7,416.1 123.1,411.9 123.6,410.1 123.9,406.8 123.6,404Z"/>
<path id="m-XC" d="M91.7,402.8 95.3,401.6 96.7,400.4 99.8,399.8 101.5,400.1 103.9,400 107.8,399.3 111.8,398.1 113.6,399 117.3,400.7 120.1,400.8 122.5,401.6 124.4,401.4 123.6,404 123.9,406.8 123.6,410.1 123.1,411.9 119.3,412.8 116.1,412.4 113.9,413.6 112.5,414.7 111.7,416 109.8,417.8 108.7,421.6 106.9,421.1 104.6,421 102.6,419.7 101.2,418.4 101.1,415.3 100,413.5 97.3,411.4 95.2,409.9 93.1,408.1 92.7,406.8 92,405.6Z"/>
<path id="m-LH" d="M108.7,421.6 109.8,417.8 111.7,416 112.5,414.7 113.9,413.6 116.1,412.4 119.3,412.8 123.1,411.9 124.7,416.1 124.4,418.4 124.6,419.9 124.1,422.2 124.4,425.2 125.4,427.3 125.3,429.9 123,430.6 120.8,430.6 117.4,430.5 115.3,431.8 112.4,432.4 110.5,432.7 108.1,433.3 104.8,431.9 104.5,430 105.9,427.3 106.3,425.9 107.7,424.1Z"/>
<path id="m-PDS" d="M81.7,400 84,400.8 86.2,401.3 89.1,402.4 91.7,402.8 92,405.6 92.7,406.8 93.1,408.1 95.2,409.9 97.3,411.4 100,413.5 101.1,415.3 101.2,418.4 102.6,419.7 104.6,421 106.9,421.1 108.7,421.6 107.7,424.1 106.3,425.9 105.9,427.3 104.5,430 104.8,431.9 108.1,433.3 106.4,436.8 105.6,439.3 104.4,442.4 102.9,440.6 102.1,438.5 101.2,436.6 99.6,435.1 97.3,434.1 94.7,433.1 92.2,433.3 90.3,429.4 88.8,429 86.6,427.7 83.6,426.5 80.4,426.3 78.6,426 76,424.6 73.5,424.1 71.2,422.9 68.7,422.5 71.1,421.2 72.8,418.9 74.5,417.5 75.3,415.3 75.6,412.3 75.9,410.5 76.6,408.5 76.6,405.5 77,403.8 79.1,402.2 80.6,401.4Z"/>
<path id="m-LYo" d="M57.4,377.6 59.2,379.8 63.1,379.6 65.7,379.6 69.2,380.5 71.4,380.6 73.5,380.5 76.3,380.5 77.9,383.1 79.3,385 80.6,387 82.3,389.5 82.7,391.6 83.6,393.4 82.7,395.6 81.9,397.6 80.6,401.4 79.1,402.2 77,403.8 76.6,405.5 76.6,408.5 75.9,410.5 75.6,412.3 75.3,415.3 74.5,417.5 72.8,418.9 71.1,421.2 68.7,422.5 67.4,423.8 66.9,426.2 64.5,427.2 63.3,427.7 61.5,429.6 59.7,430 57.5,429.7 56.3,427.8 54.2,427.3 51.8,427.1 48.5,426 46,425.3 42.9,425.5 39.8,425.3 41.3,422.6 41.5,420.2 42.5,418.6 42.7,416.9 43.1,414.3 42.3,411.5 40.3,409.2 40.3,407.1 39.5,404.3 40.3,402 42,399.4 43.2,398.3 45.2,396.2 47.2,394.9 49.2,392.4 51.4,391.9 53.2,390.7 55.2,388.2 57.4,387.2 57.8,384.9 58.9,382.1 57.8,380.1Z"/>
<path id="m-SMX" d="M15.1,397.8 17.7,396.7 19.5,396.6 22,395.5 25.5,394 28.6,392.7 31.8,391.6 33.1,390.2 35.6,387.6 38,387.3 40.3,387 43.5,385.5 45,385.3 47.8,383.4 50.7,381.7 51.8,380.6 53.3,378.8 55.8,377.6 57,376.7 57.4,377.6 57.8,380.1 58.9,382.1 57.8,384.9 57.4,387.2 55.2,388.2 53.2,390.7 51.4,391.9 49.2,392.4 47.2,394.9 45.2,396.2 43.2,398.3 42,399.4 40.3,402 39.5,404.3 40.3,407.1 40.3,409.2 42.3,411.5 43.1,414.3 42.7,416.9 42.5,418.6 41.5,420.2 41.3,422.6 39.8,425.3 38.3,427.9 38.1,428.8 36,433.1 35.9,433.6 32.3,431.2 30.2,429.9 29.3,428 27.4,426.8 26.9,424.5 24.6,423.4 22.8,421.5 21.9,420 21.8,417.9 21.6,413.8 21.3,411.8 21,409.3 19.4,407.6 16.7,405.8 18.5,402.2 16.7,400.2Z"/>
<path id="m-NY" d="M39.8,425.3 42.9,425.5 46,425.3 48.5,426 51.8,427.1 54.2,427.3 56.3,427.8 57.5,429.7 59.7,430 61.5,429.6 63.3,427.7 64.5,427.2 66.9,426.2 67.4,423.8 68.7,422.5 71.2,422.9 73.5,424.1 76,424.6 78.6,426 80.4,426.3 83.6,426.5 86.6,427.7 88.8,429 90.3,429.4 92.2,433.3 94.7,433.1 97.3,434.1 99.6,435.1 101.2,436.6 102.1,438.5 102.9,440.6 104.4,442.4 102.1,444.8 98.5,445.7 97.5,447.7 95.3,448.9 96.9,451.7 97.1,454.3 98.5,456.9 98.3,458.5 99.4,460.2 101.4,462.4 103.8,461.2 106,460.9 108,460.6 110.1,460.1 112.1,461.3 114.3,462.9 113.6,465.8 114.1,468.8 110,469.2 108.3,472.2 105.5,470.5 103.7,469.6 101.4,469.8 99.1,468.9 96.1,469 92.4,469.2 89.5,469.5 87.1,470.1 83.8,470.6 80.7,472.2 78.6,472.8 76.6,474.1 72.8,472.9 70.5,472 68.2,470.7 65.5,470.1 62.9,469.9 60.6,469.4 58.9,468.4 56.1,467.6 53.8,467 51.6,465.2 49.7,463.6 48.9,462.1 46.7,459.6 45.2,457.9 43.2,456.1 41.6,454.4 41.1,451.6 39.2,449.8 37.3,447.4 36.9,445.5 35.2,443.4 35.8,440.8 36.1,438.9 35.5,435.9 35.9,433.6 36,433.1 38.1,428.8 38.3,427.9Z"/>
<path id="m-ZMD" d="M104.4,442.4 105.6,439.3 106.4,436.8 108.1,433.3 110.5,432.7 112.4,432.4 115.3,431.8 117.4,430.5 120.8,430.6 123,430.6 125.3,429.9 129.1,431.3 131.4,431.6 133.4,432.3 135.4,432.9 137.2,435.1 138.9,436.8 141.2,437.9 143.2,440.1 145.2,443 146.1,441.2 144.1,445.2 146.7,446.1 148.6,448.3 149.2,449.5 150.7,451.9 151.8,454.5 152.9,456 150.4,456.7 148.2,457.5 146.5,458.3 145.2,460.1 142.4,462.1 140.6,463.5 140,465.3 139,467 136,469.4 134.1,470.7 132.9,471.5 131.6,470.1 129.8,468.1 127.1,467.1 125.5,466.1 124.4,464.3 122.5,463 118.5,462.6 115.6,461.7 114.3,462.9 112.1,461.3 110.1,460.1 108,460.6 106,460.9 103.8,461.2 101.4,462.4 99.4,460.2 98.3,458.5 98.5,456.9 97.1,454.3 96.9,451.7 95.3,448.9 97.5,447.7 98.5,445.7 102.1,444.8Z"/>
<path id="m-XY" d="M114.1,468.8 113.6,465.8 114.3,462.9 115.6,461.7 118.5,462.6 122.5,463 124.4,464.3 125.5,466.1 127.1,467.1 129.8,468.1 131.6,470.1 132.9,471.5 134.1,470.7 136,469.4 139,467 140,465.3 140.6,463.5 142.4,462.1 145.2,460.1 146.5,458.3 148.2,457.5 150.4,456.7 152.9,456 155.3,456.3 157.7,456.2 161.1,457.8 162.6,459.3 165.1,460 166.5,460 169,458.8 172,457.2 173.5,456.7 173.7,459.1 174.4,462 175.1,464.8 174.8,467.1 175,469.6 175.7,472.4 177.1,474.7 176.7,477 177,479.2 176.1,481.9 174.5,484.7 172.7,486.3 171.1,487.4 168,488.5 166.1,490.6 163.3,492.2 162.4,494.4 160.8,496.9 159.8,498 158.7,500 156.5,499.2 153.9,497.4 151.3,498.4 148.9,499.2 147.3,498.6 144.7,498.7 142.3,497.9 140.5,496.8 139.1,495.3 137.6,493 134.2,492.6 131.1,492 129.8,490.9 126.8,490 124.6,489 121.9,489.4 120.2,487.9 119.1,485.8 117.2,483.4 115.9,481.3 115.1,477.4 114.5,475.7 114.6,473.1 114.4,470.2Z"/>
<path id="m-BJ" d="M153.7,159.4 155.6,157.3 156.7,154.8 157.7,152.8 159.8,150.8 161.9,152.1 164.7,154.7 166.3,157.1 168.1,158.2 170.2,158.6 172.1,159.5 175.1,160.1 177.7,161.1 180.3,160.6 181.9,161.2 181.3,162.9 179.2,166.6 178.3,169.3 179.1,171.9 179.5,174.2 181.4,175.6 182.1,177.9 181.5,180 180.8,182.2 179.6,185.8 177.3,186.1 176,186.9 174.1,188.5 171.9,190.1 170.4,191.5 171.8,194 171.3,196.8 170.9,199.3 170.9,199.3 167.8,200.4 164.4,201.3 162,202.9 160.5,203.7 158.1,204.9 156.6,206.7 154,205.5 150.9,204.8 148.6,204.7 145.4,205.4 143,204.6 140.1,204.2 140.1,204.2 138.6,202.5 137.1,200.2 136.8,198.6 135.5,195.8 134.4,194.3 134.7,193.4 136.2,189.9 137.2,188.1 138.8,185.3 140.6,183.8 142,181.7 141.8,179.7 142.6,176.4 141.9,174.4 140.4,171.3 142.7,169.6 144.5,166.6 146.6,165.6 150,163.2 151.5,162.8 153.4,161.3 155.2,159.7Z"/>
<path id="m-TJ" d="M182.1,177.9 185.6,176.7 187.5,176.3 189.3,177.5 190.3,180 190.4,181.9 188.5,184.1 186.2,185.7 187,188.8 187.8,191.6 189.2,194.7 191,196.7 193.7,199.1 196,200.2 196.5,204.1 197.3,207.2 197.9,209.6 198.7,212 198.3,213.7 197.2,215.9 197.2,218.7 196.9,220.9 196.4,222.8 195.4,225.6 193.8,227.3 192.7,229.4 192.1,231.9 190.5,234.3 188,236.3 184.9,235.3 183,235.3 180.2,234.1 177.8,232.7 175.2,231.5 174.2,229.8 171.4,226.9 171.4,226.9 171.4,224.4 171,222.2 171.6,219.2 172.6,216.6 173.6,213.7 174,211.9 174,209 173.5,207 172.2,204.3 171,201.6 170.9,199.3 174,199.3 176.1,198.5 178.9,198.3 177.7,194 179.2,191.5 180.5,188 179.6,185.8 180.8,182.2 181.5,180Z"/>
<path id="m-LFl" d="M154.7,208.2 156.6,206.7 158.1,204.9 160.5,203.7 162,202.9 164.4,201.3 167.8,200.4 170.9,199.3 171,201.6 172.2,204.3 173.5,207 174,209 174,211.9 173.6,213.7 172.6,216.6 171.6,219.2 171,222.2 171.4,224.4 171.4,226.9 170.8,230.3 170,233.8 168.4,235.8 168.1,237.4 166.9,240 164.7,240.6 163.4,241.8 162.4,239.9 161.4,237.1 161.1,235.6 159.7,233.1 157.5,229.5 156.6,227.9 155.6,225.4 157.2,223.7 159.1,222.3 157.4,219.3 156.3,216.5 155.6,214.4 154.2,211.9 154.7,209.9 154.7,208.2Z"/>
<path id="m-LFu" d="M171.9,190.1 174.1,188.5 176,186.9 177.3,186.1 179.6,185.8 180.5,188 179.2,191.5 177.7,194 178.9,198.3 176.1,198.5 174,199.3 170.9,199.3 171.3,196.8 171.8,194 170.4,191.5Z"/>
</defs>
<g id="panel-a">
<rect x="9.6" y="6.0" width="746.2" height="51.5" fill="#ececec" stroke="#3c3c3c" stroke-width="1.1"/>
<text class="t" x="296.8" y="44" font-size="31.5">a.1980-1990</text>
<rect x="10.4" y="65.3" width="405.9" height="474.8" fill="#fff" stroke="#3c3c3c" stroke-width="1"/>
<text class="r" x="23.3" y="93" font-size="21.5">a.1980-1990</text>
<g transform="matrix(1 0 0 1 0 0)" stroke-linejoin="round">
<g clip-path="url(#mapclip)">
<g stroke-width="2.4"><use href="#m-CD" fill="#fdeae2" stroke="#fdeae2"/><use href="#m-ZJK" fill="#f8c4c1" stroke="#f8c4c1"/><use href="#m-QHD" fill="#fdeae2" stroke="#fdeae2"/><use href="#m-TS" fill="#f29db5" stroke="#f29db5"/><use href="#m-BD" fill="#f8c4c1" stroke="#f8c4c1"/><use href="#m-SJZ" fill="#f29db5" stroke="#f29db5"/><use href="#m-XT" fill="#f8c4c1" stroke="#f8c4c1"/><use href="#m-HD" fill="#f29db5" stroke="#f29db5"/><use href="#m-HS" fill="#f8c4c1" stroke="#f8c4c1"/><use href="#m-CZ" fill="#f8c4c1" stroke="#f8c4c1"/><use href="#m-DZ" fill="#f8c4c1" stroke="#f8c4c1"/><use href="#m-LC" fill="#f8c4c1" stroke="#f8c4c1"/><use href="#m-BZ" fill="#fdeae2" stroke="#fdeae2"/><use href="#m-DY" fill="#f8c4c1" stroke="#f8c4c1"/><use href="#m-WF" fill="#f29db5" stroke="#f29db5"/><use href="#m-QD" fill="#f8c4c1" stroke="#f8c4c1"/><use href="#m-YT" fill="#f29db5" stroke="#f29db5"/><use href="#m-WH" fill="#f29db5" stroke="#f29db5"/><use href="#m-RZ" fill="#f8c4c1" stroke="#f8c4c1"/><use href="#m-LYi" fill="#f29db5" stroke="#f29db5"/><use href="#m-JNg" fill="#f8c4c1" stroke="#f8c4c1"/><use href="#m-ZZa" fill="#f8c4c1" stroke="#f8c4c1"/><use href="#m-HZ" fill="#f29db5" stroke="#f29db5"/><use href="#m-TA" fill="#fdeae2" stroke="#fdeae2"/><use href="#m-JNa" fill="#f8c4c1" stroke="#f8c4c1"/><use href="#m-ZB" fill="#f29db5" stroke="#f29db5"/><use href="#m-AY" fill="#f29db5" stroke="#f29db5"/><use href="#m-XX" fill="#f8c4c1" stroke="#f8c4c1"/><use href="#m-PY" fill="#f29db5" stroke="#f29db5"/><use href="#m-HB" fill="#fdeae2" stroke="#fdeae2"/><use href="#m-JZ" fill="#f29db5" stroke="#f29db5"/><use href="#m-JY" fill="#fdeae2" stroke="#fdeae2"/><use href="#m-ZZh" fill="#f29db5" stroke="#f29db5"/><use href="#m-KF" fill="#f8c4c1" stroke="#f8c4c1"/><use href="#m-SQ" fill="#f8c4c1" stroke="#f8c4c1"/><use href="#m-ZK" fill="#f29db5" stroke="#f29db5"/><use href="#m-XC" fill="#f8c4c1" stroke="#f8c4c1"/><use href="#m-LH" fill="#fdeae2" stroke="#fdeae2"/><use href="#m-PDS" fill="#f8c4c1" stroke="#f8c4c1"/><use href="#m-LYo" fill="#fdeae2" stroke="#fdeae2"/><use href="#m-SMX" fill="#fdeae2" stroke="#fdeae2"/><use href="#m-NY" fill="#fdeae2" stroke="#fdeae2"/><use href="#m-ZMD" fill="#f29db5" stroke="#f29db5"/><use href="#m-XY" fill="#fdeae2" stroke="#fdeae2"/><use href="#m-BJ" fill="#f29db5" stroke="#f29db5"/><use href="#m-TJ" fill="#f29db5" stroke="#f29db5"/><use href="#m-LFl" fill="#f8c4c1" stroke="#f8c4c1"/><use href="#m-LFu" fill="#f8c4c1" stroke="#f8c4c1"/></g>
<g stroke="#8a6c6c" stroke-width="0.8"><use href="#m-CD" fill="#fdeae2"/><use href="#m-ZJK" fill="#f8c4c1"/><use href="#m-QHD" fill="#fdeae2"/><use href="#m-TS" fill="#f29db5"/><use href="#m-BD" fill="#f8c4c1"/><use href="#m-SJZ" fill="#f29db5"/><use href="#m-XT" fill="#f8c4c1"/><use href="#m-HD" fill="#f29db5"/><use href="#m-HS" fill="#f8c4c1"/><use href="#m-CZ" fill="#f8c4c1"/><use href="#m-DZ" fill="#f8c4c1"/><use href="#m-LC" fill="#f8c4c1"/><use href="#m-BZ" fill="#fdeae2"/><use href="#m-DY" fill="#f8c4c1"/><use href="#m-WF" fill="#f29db5"/><use href="#m-QD" fill="#f8c4c1"/><use href="#m-YT" fill="#f29db5"/><use href="#m-WH" fill="#f29db5"/><use href="#m-RZ" fill="#f8c4c1"/><use href="#m-LYi" fill="#f29db5"/><use href="#m-JNg" fill="#f8c4c1"/><use href="#m-ZZa" fill="#f8c4c1"/><use href="#m-HZ" fill="#f29db5"/><use href="#m-TA" fill="#fdeae2"/><use href="#m-JNa" fill="#f8c4c1"/><use href="#m-ZB" fill="#f29db5"/><use href="#m-AY" fill="#f29db5"/><use href="#m-XX" fill="#f8c4c1"/><use href="#m-PY" fill="#f29db5"/><use href="#m-HB" fill="#fdeae2"/><use href="#m-JZ" fill="#f29db5"/><use href="#m-JY" fill="#fdeae2"/><use href="#m-ZZh" fill="#f29db5"/><use href="#m-KF" fill="#f8c4c1"/><use href="#m-SQ" fill="#f8c4c1"/><use href="#m-ZK" fill="#f29db5"/><use href="#m-XC" fill="#f8c4c1"/><use href="#m-LH" fill="#fdeae2"/><use href="#m-PDS" fill="#f8c4c1"/><use href="#m-LYo" fill="#fdeae2"/><use href="#m-SMX" fill="#fdeae2"/><use href="#m-NY" fill="#fdeae2"/><use href="#m-ZMD" fill="#f29db5"/><use href="#m-XY" fill="#fdeae2"/><use href="#m-BJ" fill="#f29db5"/><use href="#m-TJ" fill="#f29db5"/><use href="#m-LFl" fill="#f8c4c1"/><use href="#m-LFu" fill="#f8c4c1"/></g>
</g>
<use href="#m-outline" fill="none" stroke="#000" stroke-width="1.9"/>
<ellipse cx="273.1" cy="311.9" rx="1.5" ry="2.1" fill="#fff" stroke="#000" stroke-width="1.3"/>
<circle cx="226.8" cy="247.8" r="0.54" fill="#000"/>
<circle cx="230.4" cy="245.7" r="0.78" fill="#000"/>
<circle cx="233.5" cy="249.9" r="0.55" fill="#000"/>
<circle cx="236.3" cy="253.5" r="0.62" fill="#000"/>
<circle cx="237.5" cy="262.8" r="0.53" fill="#000"/>
<circle cx="233.3" cy="268.9" r="0.67" fill="#000"/>
<circle cx="239.2" cy="277.3" r="0.7" fill="#000"/>
<circle cx="243.7" cy="279.4" r="0.61" fill="#000"/>
<circle cx="255.0" cy="278.4" r="0.75" fill="#000"/>
<circle cx="259.2" cy="275.1" r="0.63" fill="#000"/>
<circle cx="259.1" cy="270.8" r="0.9" fill="#000"/>
<circle cx="262.7" cy="265.3" r="0.73" fill="#000"/>
<circle cx="267.3" cy="255.7" r="0.87" fill="#000"/>
<circle cx="277.7" cy="249.9" r="0.88" fill="#000"/>
<circle cx="281.7" cy="249.1" r="0.96" fill="#000"/>
<circle cx="289.0" cy="253.4" r="0.89" fill="#000"/>
<circle cx="306.0" cy="259.1" r="0.51" fill="#000"/>
<circle cx="310.2" cy="254.7" r="0.53" fill="#000"/>
<circle cx="318.6" cy="255.4" r="0.98" fill="#000"/>
<circle cx="323.9" cy="257.6" r="0.99" fill="#000"/>
<circle cx="330.3" cy="267.1" r="0.99" fill="#000"/>
<circle cx="324.3" cy="276.3" r="0.63" fill="#000"/>
<circle cx="320.7" cy="274.0" r="0.5" fill="#000"/>
<circle cx="316.6" cy="277.1" r="1.02" fill="#000"/>
<circle cx="309.0" cy="283.3" r="0.53" fill="#000"/>
<circle cx="290.1" cy="297.2" r="0.85" fill="#000"/>
<circle cx="286.3" cy="301.0" r="0.59" fill="#000"/>
<circle cx="286.8" cy="306.4" r="0.58" fill="#000"/>
<circle cx="283.5" cy="310.6" r="0.98" fill="#000"/>
<circle cx="276.1" cy="310.8" r="0.7" fill="#000"/>
<circle cx="274.1" cy="313.7" r="0.76" fill="#000"/>
<circle cx="273.3" cy="314.9" r="0.69" fill="#000"/>
<circle cx="277.6" cy="317.4" r="0.51" fill="#000"/>
<circle cx="268.8" cy="327.8" r="0.51" fill="#000"/>
<circle cx="267.4" cy="332.8" r="0.88" fill="#000"/>
<circle cx="262.3" cy="332.8" r="0.92" fill="#000"/>
<circle cx="261.5" cy="337.9" r="0.62" fill="#000"/>
<circle cx="244.5" cy="360.4" r="0.52" fill="#000"/>
<circle cx="242.7" cy="364.9" r="0.88" fill="#000"/>
<circle cx="238.5" cy="372.7" r="1.03" fill="#000"/>
<circle cx="234.3" cy="374.2" r="0.61" fill="#000"/>
<circle cx="233.0" cy="380.7" r="0.96" fill="#000"/>
<circle cx="229.5" cy="384.0" r="0.55" fill="#000"/>
<ellipse cx="279.1" cy="230.9" rx="0.9" ry="1.8" fill="#111"/>
<ellipse cx="276.8" cy="236.8" rx="1.1" ry="1.2" fill="#111"/>
<ellipse cx="282.7" cy="241.5" rx="0.9" ry="0.9" fill="#111"/>
<ellipse cx="276.5" cy="245.3" rx="1.7" ry="1.5" fill="#111"/>
<ellipse cx="274.6" cy="239" rx="0.6" ry="0.6" fill="#111"/>
<ellipse cx="277.5" cy="316" rx="0.7" ry="0.7" fill="#111"/>
<ellipse cx="283" cy="306.5" rx="0.6" ry="0.6" fill="#111"/>
<ellipse cx="276.5" cy="327" rx="0.7" ry="0.7" fill="#111"/>
<ellipse cx="325" cy="272" rx="0.6" ry="0.6" fill="#111"/>
</g>
<text class="ml" x="173.7" y="139.4">CD</text>
<text class="ml" x="119.6" y="164.6">ZJK</text>
<text class="ml" x="156.5" y="182.9">BJ</text>
<text class="ml" x="172.9" y="193.9">LF</text>
<text class="ml" x="205.2" y="193.9">TS</text>
<text class="ml" x="231.2" y="178.8">QHD</text>
<text class="ml" x="183.9" y="213.3">TJ</text>
<text class="ml" x="164.2" y="224">LF</text>
<text class="ml" x="132.1" y="230.3">BD</text>
<text class="ml" x="175.1" y="253.6">CZ</text>
<text class="ml" x="119.6" y="265.9">SJZ</text>
<text class="ml" x="151.3" y="275.5">HS</text>
<text class="ml" x="203.8" y="267.2">BZ</text>
<text class="ml" x="223.8" y="273.3">DY</text>
<text class="ml" x="285.9" y="274.6">YT</text>
<text class="ml" x="314.6" y="267.8">WH</text>
<text class="ml" x="125.9" y="296.8">XT</text>
<text class="ml" x="173.2" y="289.4">DZ</text>
<text class="ml" x="270" y="296.5">QD</text>
<text class="ml" x="192.3" y="305.3">JN</text>
<text class="ml" x="211.2" y="307.8">ZB</text>
<text class="ml" x="238.6" y="305.8">WF</text>
<text class="ml" x="121.2" y="320.6">HD</text>
<text class="ml" x="157.3" y="320.6">LC</text>
<text class="ml" x="189.6" y="330.2">TA</text>
<text class="ml" x="247.6" y="339.8">RZ</text>
<text class="ml" x="118.2" y="340.3">AY</text>
<text class="ml" x="140.1" y="344.7">PY</text>
<text class="ml" x="184.7" y="352.1">JN</text>
<text class="ml" x="220.2" y="354.8">LY</text>
<text class="ml" x="118.2" y="355.7">HB</text>
<text class="ml" x="156.5" y="365">HZ</text>
<text class="ml" x="112.2" y="368.3">XX</text>
<text class="ml" x="88.1" y="375.9">JZ</text>
<text class="ml" x="68.4" y="379.2">JY</text>
<text class="ml" x="203.8" y="369.6">ZZ</text>
<text class="ml" x="98.5" y="393.5">ZZ</text>
<text class="ml" x="126.4" y="390.7">KF</text>
<text class="ml" x="158.7" y="397">SQ</text>
<text class="ml" x="27.4" y="408">SMX</text>
<text class="ml" x="59.6" y="408">LY</text>
<text class="ml" x="109.4" y="412.1">XC</text>
<text class="ml" x="87" y="424.4">PDS</text>
<text class="ml" x="114.4" y="426.3">LH</text>
<text class="ml" x="139" y="423.8">ZK</text>
<text class="ml" x="67.9" y="453.1">NY</text>
<text class="ml" x="124.5" y="452.6">ZMD</text>
<text class="ml" x="153.8" y="481.1">XY</text>
<text x="344" y="86.2" font-family="'Liberation Sans',Arial,sans-serif" font-size="13" text-anchor="middle" fill="#111">N</text>
<path d="M343.7,90.3 L333.7,125.2 L343.7,112.8Z" fill="#000" stroke="#000" stroke-width="0.6"/>
<path d="M343.7,90.3 L353.4,124.6 L343.7,112.8Z" fill="#fff" stroke="#000" stroke-width="1.1" stroke-linejoin="miter"/>
<path d="M312.1,161.8 V172.4 H373.9 V161.8 M343.2,161.8 V172.4" fill="none" stroke="#111" stroke-width="1.6"/>
<text class="sbl" x="312.5" y="154.1">0</text><text class="sbl" x="343.2" y="154.1">100</text><text class="sbl" x="363.2" y="154.1" style="text-anchor:start">200 km</text>
<text class="t" x="270.4" y="364.6" font-size="16.8">Legend</text>
<text class="t" x="270.4" y="385.6" font-size="14.4">Unit:km²/Year</text>
<rect x="266.8" y="394.1" width="32.4" height="16.3" fill="#fdeae2" stroke="#9c8686" stroke-width="0.8"/>
<text class="lg" x="308.6" y="406.6">0.00 - 0.64</text>
<rect x="266.8" y="416.7" width="32.4" height="16.3" fill="#fac8c2" stroke="#9c8686" stroke-width="0.8"/>
<text class="lg" x="308.6" y="433.3">0.64 - 1.38</text>
<rect x="266.8" y="439.4" width="32.4" height="16.3" fill="#f6a3b8" stroke="#9c8686" stroke-width="0.8"/>
<text class="lg" x="308.6" y="455.8">1.38 - 5.59</text>
<rect x="266.8" y="461.9" width="32.4" height="16.3" fill="#f0669f" stroke="#9c8686" stroke-width="0.8"/>
<text class="lg" x="308.6" y="477.7">5.59 - 17.07</text>
<rect x="266.8" y="484.4" width="32.4" height="16.3" fill="#c11c89" stroke="#c11c89" stroke-width="0.8"/>
<text class="lg" x="308.6" y="499.5">17.07 - 39.48</text>
<rect x="266.8" y="507.1" width="32.4" height="16.3" fill="#701a7b" stroke="#701a7b" stroke-width="0.8"/>
<text class="lg" x="308.6" y="521">39.48 - 95.30</text>
<rect x="485" y="68.2" width="268.6" height="436.1" fill="#ececec" stroke="#3c3c3c" stroke-width="1.3"/>
<text class="t" x="479.5" y="69.3" font-size="11.6" text-anchor="end">City</text>
<text class="cl" x="481.1" y="79.8">Luohe</text>
<text class="cl" x="481.1" y="88.9">Xuchang</text>
<text class="cl" x="481.1" y="98">Hengshui</text>
<text class="cl" x="481.1" y="107.1">Langfang</text>
<text class="cl" x="481.1" y="116.2">Tianjin</text>
<text class="cl" x="481.1" y="125.3">Xinyang</text>
<text class="cl" x="481.1" y="134.5">Pingdingshan</text>
<text class="cl" x="481.1" y="143.6">Weifang</text>
<text class="cl" x="481.1" y="152.7">Shangqiu</text>
<text class="cl" x="481.1" y="161.8">Jiyuan</text>
<text class="cl" x="481.1" y="170.9">Luoyang</text>
<text class="cl" x="481.1" y="180">Beijing</text>
<text class="cl" x="481.1" y="189.1">Yantai</text>
<text class="cl" x="481.1" y="198.2">Nanyang</text>
<text class="cl" x="481.1" y="207.3">Kaifeng</text>
<text class="cl" x="481.1" y="216.4">Taian</text>
<text class="cl" x="481.1" y="225.5">Sanmenxia</text>
<text class="cl" x="481.1" y="234.6">Cangzhou</text>
<text class="cl" x="481.1" y="243.8">Zhengzhou</text>
<text class="cl" x="481.1" y="252.9">Jining</text>
<text class="cl" x="481.1" y="262">Liaocheng</text>
<text class="cl" x="481.1" y="271.1">Chengde</text>
<text class="cl" x="481.1" y="280.2">Jiaozuo</text>
<text class="cl" x="481.1" y="289.3">Zibo</text>
<text class="cl" x="481.1" y="298.4">Dezhou</text>
<text class="cl" x="481.1" y="307.5">Zhangjiakou</text>
<text class="cl" x="481.1" y="316.6">Xinxiang</text>
<text class="cl" x="481.1" y="325.7">Qingdao</text>
<text class="cl" x="481.1" y="334.8">Zhumadian</text>
<text class="cl" x="481.1" y="344">Heze</text>
<text class="cl" x="481.1" y="353.1">Baoding</text>
<text class="cl" x="481.1" y="362.2">Hebi</text>
<text class="cl" x="481.1" y="371.3">Dongying</text>
<text class="cl" x="481.1" y="380.4">Zhoukou</text>
<text class="cl" x="481.1" y="389.5">Binzhou</text>
<text class="cl" x="481.1" y="398.6">Xingtai</text>
<text class="cl" x="481.1" y="407.7">Anyang</text>
<text class="cl" x="481.1" y="416.8">Zaozhuang</text>
<text class="cl" x="481.1" y="425.9">Rizhao</text>
<text class="cl" x="481.1" y="435">Handan</text>
<text class="cl" x="481.1" y="444.1">Qinhuangdao</text>
<text class="cl" x="481.1" y="453.3">Weihai</text>
<text class="cl" x="481.1" y="462.4">Tangshan</text>
<text class="cl" x="481.1" y="471.5">Linyi</text>
<text class="cl" x="481.1" y="480.6">Jinan</text>
<text class="cl" x="481.1" y="489.7">Shijiazhuang</text>
<text class="cl" x="481.1" y="498.8">Puyang</text>
<text class="tk" x="485" y="516.3">0</text>
<text class="tk" x="538.6" y="516.3">1</text>
<text class="tk" x="592.2" y="516.3">2</text>
<text class="tk" x="645.8" y="516.3">3</text>
<text class="tk" x="699.4" y="516.3">4</text>
<text class="tk" x="753" y="516.3">5</text>
<path d="M485,77.1h3.6M485,86.2h3.6M485,95.3h3.6M485,104.4h3.6M485,113.5h3.6M485,122.6h3.6M485,131.8h3.6M485,140.9h3.6M485,150h3.6M485,159.1h3.6M485,168.2h3.6M485,177.3h3.6M485,186.4h3.6M485,195.5h3.6M485,204.6h3.6M485,213.7h3.6M485,222.8h3.6M485,231.9h3.6M485,241.1h3.6M485,250.2h3.6M485,259.3h3.6M485,268.4h3.6M485,277.5h3.6M485,286.6h3.6M485,295.7h3.6M485,304.8h3.6M485,313.9h3.6M485,323h3.6M485,332.1h3.6M485,341.3h3.6M485,350.4h3.6M485,359.5h3.6M485,368.6h3.6M485,377.7h3.6M485,386.8h3.6M485,395.9h3.6M485,405h3.6M485,414.1h3.6M485,423.2h3.6M485,432.3h3.6M485,441.4h3.6M485,450.6h3.6M485,459.7h3.6M485,468.8h3.6M485,477.9h3.6M485,487h3.6M485,496.1h3.6M485,504.3v-3.4M538.6,504.3v-3.4M592.2,504.3v-3.4M645.8,504.3v-3.4M699.4,504.3v-3.4M753,504.3v-3.4" stroke="#333" stroke-width="1" fill="none"/>
<clipPath id="cc-a"><rect x="485" y="68.2" width="271.6" height="436.1"/></clipPath><g clip-path="url(#cc-a)">
<circle class="dot" cx="502" cy="77.1" r="2.55"/>
<circle class="dot" cx="557.8" cy="86.2" r="2.55"/>
<circle class="dot" cx="530.1" cy="95.3" r="2.55"/>
<circle class="dot" cx="544.4" cy="104.4" r="2.55"/>
<circle class="dot" cx="572.4" cy="113.5" r="2.55"/>
<circle class="dot" cx="513.9" cy="122.6" r="2.55"/>
<circle class="dot" cx="552.2" cy="131.8" r="2.55"/>
<circle class="dot" cx="530.8" cy="150" r="2.55"/>
<circle class="dot" cx="486.1" cy="159.1" r="2.55"/>
<circle class="dot" cx="486.1" cy="168.2" r="2.55"/>
<circle class="dot" cx="586.5" cy="177.3" r="2.55"/>
<circle class="dot" cx="637.3" cy="186.4" r="2.55"/>
<circle class="dot" cx="513.7" cy="195.5" r="2.55"/>
<circle class="dot" cx="533.7" cy="204.6" r="2.55"/>
<circle class="dot" cx="511.2" cy="213.7" r="2.55"/>
<circle class="dot" cx="485.7" cy="222.8" r="2.55"/>
<circle class="dot" cx="554.4" cy="231.9" r="2.55"/>
<circle class="dot" cx="648.2" cy="241.1" r="2.55"/>
<circle class="dot" cx="535.8" cy="250.2" r="2.55"/>
<circle class="dot" cx="520.1" cy="259.3" r="2.55"/>
<circle class="dot" cx="504.3" cy="268.4" r="2.55"/>
<circle class="dot" cx="564.4" cy="277.5" r="2.55"/>
<circle class="dot" cx="617" cy="286.6" r="2.55"/>
<circle class="dot" cx="554" cy="295.7" r="2.55"/>
<circle class="dot" cx="551.7" cy="304.8" r="2.55"/>
<circle class="dot" cx="557.8" cy="313.9" r="2.55"/>
<circle class="dot" cx="526" cy="323" r="2.55"/>
<circle class="dot" cx="575.6" cy="332.1" r="2.55"/>
<circle class="dot" cx="577.6" cy="341.3" r="2.55"/>
<circle class="dot" cx="536.7" cy="350.4" r="2.55"/>
<circle class="dot" cx="521.9" cy="359.5" r="2.55"/>
<circle class="dot" cx="553.1" cy="368.6" r="2.55"/>
<circle class="dot" cx="599.7" cy="377.7" r="2.55"/>
<circle class="dot" cx="508.9" cy="386.8" r="2.55"/>
<circle class="dot" cx="522.8" cy="395.9" r="2.55"/>
<circle class="dot" cx="627" cy="405" r="2.55"/>
<circle class="dot" cx="550.6" cy="414.1" r="2.55"/>
<circle class="dot" cx="556.4" cy="423.2" r="2.55"/>
<circle class="dot" cx="574.7" cy="432.3" r="2.55"/>
<circle class="dot" cx="493" cy="441.4" r="2.55"/>
<circle class="dot" cx="600.6" cy="450.6" r="2.55"/>
<circle class="dot" cx="713.8" cy="459.7" r="2.55"/>
<circle class="dot" cx="599.9" cy="468.8" r="2.55"/>
<circle class="dot" cx="522.3" cy="477.9" r="2.55"/>
<circle class="dot" cx="562.8" cy="487" r="2.55"/>
<circle class="dot" cx="612" cy="496.1" r="2.55"/>
</g>
<text class="t" x="619" y="531.5" font-size="11.6" text-anchor="middle">Speed(km<tspan dy="-4" font-size="7.5">2</tspan><tspan dy="4">/year)</tspan></text>
</g>
<g id="panel-b">
<rect x="774.7" y="6.0" width="749.1" height="51.1" fill="#ececec" stroke="#3c3c3c" stroke-width="1.1"/>
<text class="t" x="1059" y="44" font-size="31.5">b.1990-2000</text>
<rect x="774.7" y="65.8" width="407.6" height="473.4" fill="#fff" stroke="#3c3c3c" stroke-width="1"/>
<text class="r" x="787.4" y="98.4" font-size="21.5">b.1990-2000</text>
<g transform="matrix(1 0 0 1 763.7 0)" stroke-linejoin="round">
<g clip-path="url(#mapclip)">
<g stroke-width="2.4"><use href="#m-CD" fill="#fdeae2" stroke="#fdeae2"/><use href="#m-ZJK" fill="#f6a3b8" stroke="#f6a3b8"/><use href="#m-QHD" fill="#f6a3b8" stroke="#f6a3b8"/><use href="#m-TS" fill="#f6a3b8" stroke="#f6a3b8"/><use href="#m-BD" fill="#ee6aa1" stroke="#ee6aa1"/><use href="#m-SJZ" fill="#ee6aa1" stroke="#ee6aa1"/><use href="#m-XT" fill="#f6a3b8" stroke="#f6a3b8"/><use href="#m-HD" fill="#f6a3b8" stroke="#f6a3b8"/><use href="#m-HS" fill="#ee6aa1" stroke="#ee6aa1"/><use href="#m-CZ" fill="#ee6aa1" stroke="#ee6aa1"/><use href="#m-DZ" fill="#f6a3b8" stroke="#f6a3b8"/><use href="#m-LC" fill="#f6a3b8" stroke="#f6a3b8"/><use href="#m-BZ" fill="#fac8c2" stroke="#fac8c2"/><use href="#m-DY" fill="#fdeae2" stroke="#fdeae2"/><use href="#m-WF" fill="#f6a3b8" stroke="#f6a3b8"/><use href="#m-QD" fill="#ee6aa1" stroke="#ee6aa1"/><use href="#m-YT" fill="#f6a3b8" stroke="#f6a3b8"/><use href="#m-WH" fill="#f6a3b8" stroke="#f6a3b8"/><use href="#m-RZ" fill="#f6a3b8" stroke="#f6a3b8"/><use href="#m-LYi" fill="#ee6aa1" stroke="#ee6aa1"/><use href="#m-JNg" fill="#f6a3b8" stroke="#f6a3b8"/><use href="#m-ZZa" fill="#f6a3b8" stroke="#f6a3b8"/><use href="#m-HZ" fill="#f6a3b8" stroke="#f6a3b8"/><use href="#m-TA" fill="#f6a3b8" stroke="#f6a3b8"/><use href="#m-JNa" fill="#ee6aa1" stroke="#ee6aa1"/><use href="#m-ZB" fill="#f6a3b8" stroke="#f6a3b8"/><use href="#m-AY" fill="#f6a3b8" stroke="#f6a3b8"/><use href="#m-XX" fill="#f6a3b8" stroke="#f6a3b8"/><use href="#m-PY" fill="#f6a3b8" stroke="#f6a3b8"/><use href="#m-HB" fill="#fac8c2" stroke="#fac8c2"/><use href="#m-JZ" fill="#f6a3b8" stroke="#f6a3b8"/><use href="#m-JY" fill="#f6a3b8" stroke="#f6a3b8"/><use href="#m-ZZh" fill="#ee6aa1" stroke="#ee6aa1"/><use href="#m-KF" fill="#f6a3b8" stroke="#f6a3b8"/><use href="#m-SQ" fill="#ee6aa1" stroke="#ee6aa1"/><use href="#m-ZK" fill="#f6a3b8" stroke="#f6a3b8"/><use href="#m-XC" fill="#f6a3b8" stroke="#f6a3b8"/><use href="#m-LH" fill="#f6a3b8" stroke="#f6a3b8"/><use href="#m-PDS" fill="#f6a3b8" stroke="#f6a3b8"/><use href="#m-LYo" fill="#f6a3b8" stroke="#f6a3b8"/><use href="#m-SMX" fill="#f6a3b8" stroke="#f6a3b8"/><use href="#m-NY" fill="#ee6aa1" stroke="#ee6aa1"/><use href="#m-ZMD" fill="#f6a3b8" stroke="#f6a3b8"/><use href="#m-XY" fill="#f6a3b8" stroke="#f6a3b8"/><use href="#m-BJ" fill="#701a7b" stroke="#701a7b"/><use href="#m-TJ" fill="#ee6aa1" stroke="#ee6aa1"/><use href="#m-LFl" fill="#ee6aa1" stroke="#ee6aa1"/><use href="#m-LFu" fill="#ee6aa1" stroke="#ee6aa1"/></g>
<g stroke="#3c3030" stroke-width="0.8"><use href="#m-CD" fill="#fdeae2"/><use href="#m-ZJK" fill="#f6a3b8"/><use href="#m-QHD" fill="#f6a3b8"/><use href="#m-TS" fill="#f6a3b8"/><use href="#m-BD" fill="#ee6aa1"/><use href="#m-SJZ" fill="#ee6aa1"/><use href="#m-XT" fill="#f6a3b8"/><use href="#m-HD" fill="#f6a3b8"/><use href="#m-HS" fill="#ee6aa1"/><use href="#m-CZ" fill="#ee6aa1"/><use href="#m-DZ" fill="#f6a3b8"/><use href="#m-LC" fill="#f6a3b8"/><use href="#m-BZ" fill="#fac8c2"/><use href="#m-DY" fill="#fdeae2"/><use href="#m-WF" fill="#f6a3b8"/><use href="#m-QD" fill="#ee6aa1"/><use href="#m-YT" fill="#f6a3b8"/><use href="#m-WH" fill="#f6a3b8"/><use href="#m-RZ" fill="#f6a3b8"/><use href="#m-LYi" fill="#ee6aa1"/><use href="#m-JNg" fill="#f6a3b8"/><use href="#m-ZZa" fill="#f6a3b8"/><use href="#m-HZ" fill="#f6a3b8"/><use href="#m-TA" fill="#f6a3b8"/><use href="#m-JNa" fill="#ee6aa1"/><use href="#m-ZB" fill="#f6a3b8"/><use href="#m-AY" fill="#f6a3b8"/><use href="#m-XX" fill="#f6a3b8"/><use href="#m-PY" fill="#f6a3b8"/><use href="#m-HB" fill="#fac8c2"/><use href="#m-JZ" fill="#f6a3b8"/><use href="#m-JY" fill="#f6a3b8"/><use href="#m-ZZh" fill="#ee6aa1"/><use href="#m-KF" fill="#f6a3b8"/><use href="#m-SQ" fill="#ee6aa1"/><use href="#m-ZK" fill="#f6a3b8"/><use href="#m-XC" fill="#f6a3b8"/><use href="#m-LH" fill="#f6a3b8"/><use href="#m-PDS" fill="#f6a3b8"/><use href="#m-LYo" fill="#f6a3b8"/><use href="#m-SMX" fill="#f6a3b8"/><use href="#m-NY" fill="#ee6aa1"/><use href="#m-ZMD" fill="#f6a3b8"/><use href="#m-XY" fill="#f6a3b8"/><use href="#m-BJ" fill="#701a7b"/><use href="#m-TJ" fill="#ee6aa1"/><use href="#m-LFl" fill="#ee6aa1"/><use href="#m-LFu" fill="#ee6aa1"/></g>
</g>
<use href="#m-outline" fill="none" stroke="#111" stroke-width="1.5"/>
<ellipse cx="273.1" cy="311.9" rx="1.5" ry="2.1" fill="#fff" stroke="#111" stroke-width="1.3"/>
<circle cx="226.8" cy="247.8" r="0.54" fill="#111"/>
<circle cx="230.4" cy="245.7" r="0.78" fill="#111"/>
<circle cx="233.5" cy="249.9" r="0.55" fill="#111"/>
<circle cx="236.3" cy="253.5" r="0.62" fill="#111"/>
<circle cx="237.5" cy="262.8" r="0.53" fill="#111"/>
<circle cx="233.3" cy="268.9" r="0.67" fill="#111"/>
<circle cx="239.2" cy="277.3" r="0.7" fill="#111"/>
<circle cx="243.7" cy="279.4" r="0.61" fill="#111"/>
<circle cx="255.0" cy="278.4" r="0.75" fill="#111"/>
<circle cx="259.2" cy="275.1" r="0.63" fill="#111"/>
<circle cx="259.1" cy="270.8" r="0.9" fill="#111"/>
<circle cx="262.7" cy="265.3" r="0.73" fill="#111"/>
<circle cx="267.3" cy="255.7" r="0.87" fill="#111"/>
<circle cx="277.7" cy="249.9" r="0.88" fill="#111"/>
<circle cx="281.7" cy="249.1" r="0.96" fill="#111"/>
<circle cx="289.0" cy="253.4" r="0.89" fill="#111"/>
<circle cx="306.0" cy="259.1" r="0.51" fill="#111"/>
<circle cx="310.2" cy="254.7" r="0.53" fill="#111"/>
<circle cx="318.6" cy="255.4" r="0.98" fill="#111"/>
<circle cx="323.9" cy="257.6" r="0.99" fill="#111"/>
<circle cx="330.3" cy="267.1" r="0.99" fill="#111"/>
<circle cx="324.3" cy="276.3" r="0.63" fill="#111"/>
<circle cx="320.7" cy="274.0" r="0.5" fill="#111"/>
<circle cx="316.6" cy="277.1" r="1.02" fill="#111"/>
<circle cx="309.0" cy="283.3" r="0.53" fill="#111"/>
<circle cx="290.1" cy="297.2" r="0.85" fill="#111"/>
<circle cx="286.3" cy="301.0" r="0.59" fill="#111"/>
<circle cx="286.8" cy="306.4" r="0.58" fill="#111"/>
<circle cx="283.5" cy="310.6" r="0.98" fill="#111"/>
<circle cx="276.1" cy="310.8" r="0.7" fill="#111"/>
<circle cx="274.1" cy="313.7" r="0.76" fill="#111"/>
<circle cx="273.3" cy="314.9" r="0.69" fill="#111"/>
<circle cx="277.6" cy="317.4" r="0.51" fill="#111"/>
<circle cx="268.8" cy="327.8" r="0.51" fill="#111"/>
<circle cx="267.4" cy="332.8" r="0.88" fill="#111"/>
<circle cx="262.3" cy="332.8" r="0.92" fill="#111"/>
<circle cx="261.5" cy="337.9" r="0.62" fill="#111"/>
<circle cx="244.5" cy="360.4" r="0.52" fill="#111"/>
<circle cx="242.7" cy="364.9" r="0.88" fill="#111"/>
<circle cx="238.5" cy="372.7" r="1.03" fill="#111"/>
<circle cx="234.3" cy="374.2" r="0.61" fill="#111"/>
<circle cx="233.0" cy="380.7" r="0.96" fill="#111"/>
<circle cx="229.5" cy="384.0" r="0.55" fill="#111"/>
<ellipse cx="279.1" cy="230.9" rx="0.9" ry="1.8" fill="#111"/>
<ellipse cx="276.8" cy="236.8" rx="1.1" ry="1.2" fill="#111"/>
<ellipse cx="282.7" cy="241.5" rx="0.9" ry="0.9" fill="#111"/>
<ellipse cx="276.5" cy="245.3" rx="1.7" ry="1.5" fill="#111"/>
<ellipse cx="274.6" cy="239" rx="0.6" ry="0.6" fill="#111"/>
<ellipse cx="277.5" cy="316" rx="0.7" ry="0.7" fill="#111"/>
<ellipse cx="283" cy="306.5" rx="0.6" ry="0.6" fill="#111"/>
<ellipse cx="276.5" cy="327" rx="0.7" ry="0.7" fill="#111"/>
<ellipse cx="325" cy="272" rx="0.6" ry="0.6" fill="#111"/>
</g>
<text class="ml" x="937.4" y="139.4">CD</text>
<text class="ml" x="883.3" y="164.6">ZJK</text>
<text class="ml" x="920.2" y="182.9">BJ</text>
<text class="ml" x="936.6" y="193.9">LF</text>
<text class="ml" x="968.9" y="193.9">TS</text>
<text class="ml" x="994.9" y="178.8">QHD</text>
<text class="ml" x="947.6" y="213.3">TJ</text>
<text class="ml" x="927.9" y="224">LF</text>
<text class="ml" x="895.8" y="230.3">BD</text>
<text class="ml" x="938.8" y="253.6">CZ</text>
<text class="ml" x="883.3" y="265.9">SJZ</text>
<text class="ml" x="915" y="275.5">HS</text>
<text class="ml" x="967.5" y="267.2">BZ</text>
<text class="ml" x="987.5" y="273.3">DY</text>
<text class="ml" x="1049.6" y="274.6">YT</text>
<text class="ml" x="1078.3" y="267.8">WH</text>
<text class="ml" x="889.6" y="296.8">XT</text>
<text class="ml" x="936.9" y="289.4">DZ</text>
<text class="ml" x="1033.7" y="296.5">QD</text>
<text class="ml" x="956" y="305.3">JN</text>
<text class="ml" x="974.9" y="307.8">ZB</text>
<text class="ml" x="1002.3" y="305.8">WF</text>
<text class="ml" x="884.9" y="320.6">HD</text>
<text class="ml" x="921" y="320.6">LC</text>
<text class="ml" x="953.3" y="330.2">TA</text>
<text class="ml" x="1011.3" y="339.8">RZ</text>
<text class="ml" x="881.9" y="340.3">AY</text>
<text class="ml" x="903.8" y="344.7">PY</text>
<text class="ml" x="948.4" y="352.1">JN</text>
<text class="ml" x="983.9" y="354.8">LY</text>
<text class="ml" x="881.9" y="355.7">HB</text>
<text class="ml" x="920.2" y="365">HZ</text>
<text class="ml" x="875.9" y="368.3">XX</text>
<text class="ml" x="851.8" y="375.9">JZ</text>
<text class="ml" x="832.1" y="379.2">JY</text>
<text class="ml" x="967.5" y="369.6">ZZ</text>
<text class="ml" x="862.2" y="393.5">ZZ</text>
<text class="ml" x="890.1" y="390.7">KF</text>
<text class="ml" x="922.4" y="397">SQ</text>
<text class="ml" x="791.1" y="408">SMX</text>
<text class="ml" x="823.3" y="408">LY</text>
<text class="ml" x="873.1" y="412.1">XC</text>
<text class="ml" x="850.7" y="424.4">PDS</text>
<text class="ml" x="878.1" y="426.3">LH</text>
<text class="ml" x="902.7" y="423.8">ZK</text>
<text class="ml" x="831.6" y="453.1">NY</text>
<text class="ml" x="888.2" y="452.6">ZMD</text>
<text class="ml" x="917.5" y="481.1">XY</text>
<text x="1114.7" y="88.2" font-family="'Liberation Sans',Arial,sans-serif" font-size="13" text-anchor="middle" fill="#111">N</text>
<path d="M1114.5,93.3 L1104.8,126.9 L1114.5,114.5Z" fill="#000" stroke="#000" stroke-width="0.6"/>
<path d="M1114.5,93.3 L1124.3,126.3 L1114.5,114.5Z" fill="#fff" stroke="#000" stroke-width="1.1" stroke-linejoin="miter"/>
<path d="M1083.8,163.3 V174.1 H1144 V163.3 M1113.9,163.3 V174.1" fill="none" stroke="#111" stroke-width="1.6"/>
<text class="sbl" x="1084.2" y="155.9">0</text><text class="sbl" x="1113.9" y="155.9">100</text><text class="sbl" x="1133.3" y="155.9" style="text-anchor:start">200 km</text>
<text class="t" x="1042.4" y="363.6" font-size="16.8">Legend</text>
<text class="t" x="1042.4" y="384.6" font-size="14.4">Unit:km²/Year</text>
<rect x="1039.3" y="392.8" width="31.7" height="16.3" fill="#fdeae2" stroke="#9c8686" stroke-width="0.8"/>
<text class="lg" x="1080.3" y="405.2">0.00 - 0.64</text>
<rect x="1039.3" y="415.4" width="31.7" height="16.3" fill="#fac8c2" stroke="#9c8686" stroke-width="0.8"/>
<text class="lg" x="1080.3" y="432.3">0.64 - 1.38</text>
<rect x="1039.3" y="438.0" width="31.7" height="16.3" fill="#f6a3b8" stroke="#9c8686" stroke-width="0.8"/>
<text class="lg" x="1080.3" y="454.3">1.38 - 5.59</text>
<rect x="1039.3" y="460.5" width="31.7" height="16.3" fill="#f0669f" stroke="#9c8686" stroke-width="0.8"/>
<text class="lg" x="1080.3" y="476.2">5.59 - 17.07</text>
<rect x="1039.3" y="483.0" width="31.7" height="16.3" fill="#c11c89" stroke="#c11c89" stroke-width="0.8"/>
<text class="lg" x="1080.3" y="498.1">17.07 - 39.48</text>
<rect x="1039.3" y="505.6" width="31.7" height="16.3" fill="#701a7b" stroke="#701a7b" stroke-width="0.8"/>
<text class="lg" x="1080.3" y="519.7">39.48 - 95.30</text>
<rect x="1253.8" y="66.9" width="270.4" height="437.4" fill="#ececec" stroke="#3c3c3c" stroke-width="1.3"/>
<text class="t" x="1247.3" y="67.5" font-size="11.6" text-anchor="end">City</text>
<text class="cl" x="1249.9" y="78.4">Luohe</text>
<text class="cl" x="1249.9" y="87.5">Xuchang</text>
<text class="cl" x="1249.9" y="96.7">Hengshui</text>
<text class="cl" x="1249.9" y="105.8">Langfang</text>
<text class="cl" x="1249.9" y="115">Tianjin</text>
<text class="cl" x="1249.9" y="124.1">Xinyang</text>
<text class="cl" x="1249.9" y="133.2">Pingdingshan</text>
<text class="cl" x="1249.9" y="142.4">Weifang</text>
<text class="cl" x="1249.9" y="151.5">Shangqiu</text>
<text class="cl" x="1249.9" y="160.7">Jiyuan</text>
<text class="cl" x="1249.9" y="169.8">Luoyang</text>
<text class="cl" x="1249.9" y="178.9">Beijing</text>
<text class="cl" x="1249.9" y="188.1">Yantai</text>
<text class="cl" x="1249.9" y="197.2">Nanyang</text>
<text class="cl" x="1249.9" y="206.3">Kaifeng</text>
<text class="cl" x="1249.9" y="215.5">Taian</text>
<text class="cl" x="1249.9" y="224.6">Sanmenxia</text>
<text class="cl" x="1249.9" y="233.8">Cangzhou</text>
<text class="cl" x="1249.9" y="242.9">Zhengzhou</text>
<text class="cl" x="1249.9" y="252">Jining</text>
<text class="cl" x="1249.9" y="261.2">Liaocheng</text>
<text class="cl" x="1249.9" y="270.3">Chengde</text>
<text class="cl" x="1249.9" y="279.5">Jiaozuo</text>
<text class="cl" x="1249.9" y="288.6">Zibo</text>
<text class="cl" x="1249.9" y="297.7">Dezhou</text>
<text class="cl" x="1249.9" y="306.9">Zhangjiakou</text>
<text class="cl" x="1249.9" y="316">Xinxiang</text>
<text class="cl" x="1249.9" y="325.2">Qingdao</text>
<text class="cl" x="1249.9" y="334.3">Zhumadian</text>
<text class="cl" x="1249.9" y="343.4">Heze</text>
<text class="cl" x="1249.9" y="352.6">Baoding</text>
<text class="cl" x="1249.9" y="361.7">Hebi</text>
<text class="cl" x="1249.9" y="370.9">Dongying</text>
<text class="cl" x="1249.9" y="380">Zhoukou</text>
<text class="cl" x="1249.9" y="389.1">Binzhou</text>
<text class="cl" x="1249.9" y="398.3">Xingtai</text>
<text class="cl" x="1249.9" y="407.4">Anyang</text>
<text class="cl" x="1249.9" y="416.5">Zaozhuang</text>
<text class="cl" x="1249.9" y="425.7">Rizhao</text>
<text class="cl" x="1249.9" y="434.8">Handan</text>
<text class="cl" x="1249.9" y="444">Qinhuangdao</text>
<text class="cl" x="1249.9" y="453.1">Weihai</text>
<text class="cl" x="1249.9" y="462.2">Tangshan</text>
<text class="cl" x="1249.9" y="471.4">Linyi</text>
<text class="cl" x="1249.9" y="480.5">Jinan</text>
<text class="cl" x="1249.9" y="489.7">Shijiazhuang</text>
<text class="cl" x="1249.9" y="498.8">Puyang</text>
<text class="tk" x="1253.8" y="516.3">0</text>
<text class="tk" x="1307.8" y="516.3">8</text>
<text class="tk" x="1361.7" y="516.3">16</text>
<text class="tk" x="1415.7" y="516.3">24</text>
<text class="tk" x="1469.6" y="516.3">32</text>
<text class="tk" x="1523.6" y="516.3">40</text>
<path d="M1253.8,75.7h3.6M1253.8,84.8h3.6M1253.8,94h3.6M1253.8,103.1h3.6M1253.8,112.3h3.6M1253.8,121.4h3.6M1253.8,130.5h3.6M1253.8,139.7h3.6M1253.8,148.8h3.6M1253.8,158h3.6M1253.8,167.1h3.6M1253.8,176.2h3.6M1253.8,185.4h3.6M1253.8,194.5h3.6M1253.8,203.6h3.6M1253.8,212.8h3.6M1253.8,221.9h3.6M1253.8,231.1h3.6M1253.8,240.2h3.6M1253.8,249.3h3.6M1253.8,258.5h3.6M1253.8,267.6h3.6M1253.8,276.8h3.6M1253.8,285.9h3.6M1253.8,295h3.6M1253.8,304.2h3.6M1253.8,313.3h3.6M1253.8,322.5h3.6M1253.8,331.6h3.6M1253.8,340.7h3.6M1253.8,349.9h3.6M1253.8,359h3.6M1253.8,368.2h3.6M1253.8,377.3h3.6M1253.8,386.4h3.6M1253.8,395.6h3.6M1253.8,404.7h3.6M1253.8,413.8h3.6M1253.8,423h3.6M1253.8,432.1h3.6M1253.8,441.3h3.6M1253.8,450.4h3.6M1253.8,459.5h3.6M1253.8,468.7h3.6M1253.8,477.8h3.6M1253.8,487h3.6M1253.8,496.1h3.6M1253.8,504.3v-3.4M1307.8,504.3v-3.4M1361.7,504.3v-3.4M1415.7,504.3v-3.4M1469.6,504.3v-3.4M1523.6,504.3v-3.4" stroke="#333" stroke-width="1" fill="none"/>
<clipPath id="cc-b"><rect x="1253.8" y="66.9" width="273.4" height="437.4"/></clipPath><g clip-path="url(#cc-b)">
<circle class="dot" cx="1276.6" cy="75.7" r="2.55"/>
<circle class="dot" cx="1268.4" cy="84.8" r="2.55"/>
<circle class="dot" cx="1293.5" cy="94" r="2.55"/>
<circle class="dot" cx="1295.5" cy="103.1" r="2.55"/>
<circle class="dot" cx="1295.5" cy="112.3" r="2.55"/>
<circle class="dot" cx="1288.9" cy="121.4" r="2.55"/>
<circle class="dot" cx="1266.3" cy="130.5" r="2.55"/>
<circle class="dot" cx="1290.7" cy="139.7" r="2.55"/>
<circle class="dot" cx="1294.1" cy="148.8" r="2.55"/>
<circle class="dot" cx="1263.6" cy="158" r="2.55"/>
<circle class="dot" cx="1276.6" cy="167.1" r="2.55"/>
<circle class="dot" cx="1520.2" cy="176.2" r="2.55"/>
<circle class="dot" cx="1284.4" cy="185.4" r="2.55"/>
<circle class="dot" cx="1301.4" cy="194.5" r="2.55"/>
<circle class="dot" cx="1275.7" cy="203.6" r="2.55"/>
<circle class="dot" cx="1270.5" cy="212.8" r="2.55"/>
<circle class="dot" cx="1271.8" cy="221.9" r="2.55"/>
<circle class="dot" cx="1302.1" cy="231.1" r="2.55"/>
<circle class="dot" cx="1308" cy="240.2" r="2.55"/>
<circle class="dot" cx="1281.4" cy="249.3" r="2.55"/>
<circle class="dot" cx="1272.5" cy="258.5" r="2.55"/>
<circle class="dot" cx="1255.6" cy="267.6" r="2.55"/>
<circle class="dot" cx="1273.4" cy="276.8" r="2.55"/>
<circle class="dot" cx="1280.7" cy="285.9" r="2.55"/>
<circle class="dot" cx="1273.2" cy="295" r="2.55"/>
<circle class="dot" cx="1267.5" cy="304.2" r="2.55"/>
<circle class="dot" cx="1282.5" cy="313.3" r="2.55"/>
<circle class="dot" cx="1307.4" cy="322.5" r="2.55"/>
<circle class="dot" cx="1268.6" cy="331.6" r="2.55"/>
<circle class="dot" cx="1275.9" cy="340.7" r="2.55"/>
<circle class="dot" cx="1334.5" cy="349.9" r="2.55"/>
<circle class="dot" cx="1262.4" cy="359" r="2.55"/>
<circle class="dot" cx="1256.8" cy="368.2" r="2.55"/>
<circle class="dot" cx="1281.4" cy="377.3" r="2.55"/>
<circle class="dot" cx="1261.8" cy="386.4" r="2.55"/>
<circle class="dot" cx="1281.1" cy="395.6" r="2.55"/>
<circle class="dot" cx="1282.1" cy="404.7" r="2.55"/>
<circle class="dot" cx="1265.9" cy="413.8" r="2.55"/>
<circle class="dot" cx="1273.2" cy="423" r="2.55"/>
<circle class="dot" cx="1278.1" cy="432.1" r="2.55"/>
<circle class="dot" cx="1272.7" cy="441.3" r="2.55"/>
<circle class="dot" cx="1289.8" cy="450.4" r="2.55"/>
<circle class="dot" cx="1278.9" cy="459.5" r="2.55"/>
<circle class="dot" cx="1306" cy="468.7" r="2.55"/>
<circle class="dot" cx="1304.9" cy="477.8" r="2.55"/>
<circle class="dot" cx="1328.5" cy="487" r="2.55"/>
<circle class="dot" cx="1276.6" cy="496.1" r="2.55"/>
</g>
<text class="t" x="1388" y="531.5" font-size="11.6" text-anchor="middle">Speed(km<tspan dy="-4" font-size="7.5">2</tspan><tspan dy="4">/year)</tspan></text>
</g>
<g id="panel-c">
<rect x="9.6" y="561" width="745.4" height="52.5" fill="#ececec" stroke="#3c3c3c" stroke-width="1.1"/>
<text class="t" x="300.1" y="600.6" font-size="31.5">c.2000-2010</text>
<rect x="10.4" y="619.8" width="407.8" height="469.6" fill="#fff" stroke="#3c3c3c" stroke-width="1"/>
<text class="r" x="23.3" y="654" font-size="21.5">c.2000-2010</text>
<g transform="matrix(1 0 0 0.982 -1.0 567.1)" stroke-linejoin="round">
<g clip-path="url(#mapclip)">
<g stroke-width="2.4"><use href="#m-CD" fill="#f0669f" stroke="#f0669f"/><use href="#m-ZJK" fill="#f0669f" stroke="#f0669f"/><use href="#m-QHD" fill="#f0669f" stroke="#f0669f"/><use href="#m-TS" fill="#f0669f" stroke="#f0669f"/><use href="#m-BD" fill="#f0669f" stroke="#f0669f"/><use href="#m-SJZ" fill="#c11c89" stroke="#c11c89"/><use href="#m-XT" fill="#f0669f" stroke="#f0669f"/><use href="#m-HD" fill="#c11c89" stroke="#c11c89"/><use href="#m-HS" fill="#f0669f" stroke="#f0669f"/><use href="#m-CZ" fill="#f0669f" stroke="#f0669f"/><use href="#m-DZ" fill="#f0669f" stroke="#f0669f"/><use href="#m-LC" fill="#c11c89" stroke="#c11c89"/><use href="#m-BZ" fill="#c11c89" stroke="#c11c89"/><use href="#m-DY" fill="#c11c89" stroke="#c11c89"/><use href="#m-WF" fill="#c11c89" stroke="#c11c89"/><use href="#m-QD" fill="#c11c89" stroke="#c11c89"/><use href="#m-YT" fill="#c11c89" stroke="#c11c89"/><use href="#m-WH" fill="#f0669f" stroke="#f0669f"/><use href="#m-RZ" fill="#f0669f" stroke="#f0669f"/><use href="#m-LYi" fill="#701a7b" stroke="#701a7b"/><use href="#m-JNg" fill="#c11c89" stroke="#c11c89"/><use href="#m-ZZa" fill="#f0669f" stroke="#f0669f"/><use href="#m-HZ" fill="#c11c89" stroke="#c11c89"/><use href="#m-TA" fill="#c11c89" stroke="#c11c89"/><use href="#m-JNa" fill="#701a7b" stroke="#701a7b"/><use href="#m-ZB" fill="#c11c89" stroke="#c11c89"/><use href="#m-AY" fill="#f0669f" stroke="#f0669f"/><use href="#m-XX" fill="#f0669f" stroke="#f0669f"/><use href="#m-PY" fill="#f6a3b8" stroke="#f6a3b8"/><use href="#m-HB" fill="#f6a3b8" stroke="#f6a3b8"/><use href="#m-JZ" fill="#f6a3b8" stroke="#f6a3b8"/><use href="#m-JY" fill="#fdeae2" stroke="#fdeae2"/><use href="#m-ZZh" fill="#c11c89" stroke="#c11c89"/><use href="#m-KF" fill="#f6a3b8" stroke="#f6a3b8"/><use href="#m-SQ" fill="#f0669f" stroke="#f0669f"/><use href="#m-ZK" fill="#f6a3b8" stroke="#f6a3b8"/><use href="#m-XC" fill="#f6a3b8" stroke="#f6a3b8"/><use href="#m-LH" fill="#f6a3b8" stroke="#f6a3b8"/><use href="#m-PDS" fill="#f0669f" stroke="#f0669f"/><use href="#m-LYo" fill="#f0669f" stroke="#f0669f"/><use href="#m-SMX" fill="#f6a3b8" stroke="#f6a3b8"/><use href="#m-NY" fill="#f0669f" stroke="#f0669f"/><use href="#m-ZMD" fill="#f0669f" stroke="#f0669f"/><use href="#m-XY" fill="#f0669f" stroke="#f0669f"/><use href="#m-BJ" fill="#701a7b" stroke="#701a7b"/><use href="#m-TJ" fill="#c11c89" stroke="#c11c89"/><use href="#m-LFl" fill="#f0669f" stroke="#f0669f"/><use href="#m-LFu" fill="#f0669f" stroke="#f0669f"/></g>
<g stroke="#9585a5" stroke-width="0.8"><use href="#m-CD" fill="#f0669f"/><use href="#m-ZJK" fill="#f0669f"/><use href="#m-QHD" fill="#f0669f"/><use href="#m-TS" fill="#f0669f"/><use href="#m-BD" fill="#f0669f"/><use href="#m-SJZ" fill="#c11c89"/><use href="#m-XT" fill="#f0669f"/><use href="#m-HD" fill="#c11c89"/><use href="#m-HS" fill="#f0669f"/><use href="#m-CZ" fill="#f0669f"/><use href="#m-DZ" fill="#f0669f"/><use href="#m-LC" fill="#c11c89"/><use href="#m-BZ" fill="#c11c89"/><use href="#m-DY" fill="#c11c89"/><use href="#m-WF" fill="#c11c89"/><use href="#m-QD" fill="#c11c89"/><use href="#m-YT" fill="#c11c89"/><use href="#m-WH" fill="#f0669f"/><use href="#m-RZ" fill="#f0669f"/><use href="#m-LYi" fill="#701a7b"/><use href="#m-JNg" fill="#c11c89"/><use href="#m-ZZa" fill="#f0669f"/><use href="#m-HZ" fill="#c11c89"/><use href="#m-TA" fill="#c11c89"/><use href="#m-JNa" fill="#701a7b"/><use href="#m-ZB" fill="#c11c89"/><use href="#m-AY" fill="#f0669f"/><use href="#m-XX" fill="#f0669f"/><use href="#m-PY" fill="#f6a3b8"/><use href="#m-HB" fill="#f6a3b8"/><use href="#m-JZ" fill="#f6a3b8"/><use href="#m-JY" fill="#fdeae2"/><use href="#m-ZZh" fill="#c11c89"/><use href="#m-KF" fill="#f6a3b8"/><use href="#m-SQ" fill="#f0669f"/><use href="#m-ZK" fill="#f6a3b8"/><use href="#m-XC" fill="#f6a3b8"/><use href="#m-LH" fill="#f6a3b8"/><use href="#m-PDS" fill="#f0669f"/><use href="#m-LYo" fill="#f0669f"/><use href="#m-SMX" fill="#f6a3b8"/><use href="#m-NY" fill="#f0669f"/><use href="#m-ZMD" fill="#f0669f"/><use href="#m-XY" fill="#f0669f"/><use href="#m-BJ" fill="#701a7b"/><use href="#m-TJ" fill="#c11c89"/><use href="#m-LFl" fill="#f0669f"/><use href="#m-LFu" fill="#f0669f"/></g>
</g>
<use href="#m-outline" fill="none" stroke="#666" stroke-width="1.0"/>
<ellipse cx="273.1" cy="311.9" rx="1.5" ry="2.1" fill="#fff" stroke="#666" stroke-width="1.0"/>
<circle cx="226.8" cy="247.8" r="0.54" fill="#666"/>
<circle cx="230.4" cy="245.7" r="0.78" fill="#666"/>
<circle cx="233.5" cy="249.9" r="0.55" fill="#666"/>
<circle cx="236.3" cy="253.5" r="0.62" fill="#666"/>
<circle cx="237.5" cy="262.8" r="0.53" fill="#666"/>
<circle cx="233.3" cy="268.9" r="0.67" fill="#666"/>
<circle cx="239.2" cy="277.3" r="0.7" fill="#666"/>
<circle cx="243.7" cy="279.4" r="0.61" fill="#666"/>
<circle cx="255.0" cy="278.4" r="0.75" fill="#666"/>
<circle cx="259.2" cy="275.1" r="0.63" fill="#666"/>
<circle cx="259.1" cy="270.8" r="0.9" fill="#666"/>
<circle cx="262.7" cy="265.3" r="0.73" fill="#666"/>
<circle cx="267.3" cy="255.7" r="0.87" fill="#666"/>
<circle cx="277.7" cy="249.9" r="0.88" fill="#666"/>
<circle cx="281.7" cy="249.1" r="0.96" fill="#666"/>
<circle cx="289.0" cy="253.4" r="0.89" fill="#666"/>
<circle cx="306.0" cy="259.1" r="0.51" fill="#666"/>
<circle cx="310.2" cy="254.7" r="0.53" fill="#666"/>
<circle cx="318.6" cy="255.4" r="0.98" fill="#666"/>
<circle cx="323.9" cy="257.6" r="0.99" fill="#666"/>
<circle cx="330.3" cy="267.1" r="0.99" fill="#666"/>
<circle cx="324.3" cy="276.3" r="0.63" fill="#666"/>
<circle cx="320.7" cy="274.0" r="0.5" fill="#666"/>
<circle cx="316.6" cy="277.1" r="1.02" fill="#666"/>
<circle cx="309.0" cy="283.3" r="0.53" fill="#666"/>
<circle cx="290.1" cy="297.2" r="0.85" fill="#666"/>
<circle cx="286.3" cy="301.0" r="0.59" fill="#666"/>
<circle cx="286.8" cy="306.4" r="0.58" fill="#666"/>
<circle cx="283.5" cy="310.6" r="0.98" fill="#666"/>
<circle cx="276.1" cy="310.8" r="0.7" fill="#666"/>
<circle cx="274.1" cy="313.7" r="0.76" fill="#666"/>
<circle cx="273.3" cy="314.9" r="0.69" fill="#666"/>
<circle cx="277.6" cy="317.4" r="0.51" fill="#666"/>
<circle cx="268.8" cy="327.8" r="0.51" fill="#666"/>
<circle cx="267.4" cy="332.8" r="0.88" fill="#666"/>
<circle cx="262.3" cy="332.8" r="0.92" fill="#666"/>
<circle cx="261.5" cy="337.9" r="0.62" fill="#666"/>
<circle cx="244.5" cy="360.4" r="0.52" fill="#666"/>
<circle cx="242.7" cy="364.9" r="0.88" fill="#666"/>
<circle cx="238.5" cy="372.7" r="1.03" fill="#666"/>
<circle cx="234.3" cy="374.2" r="0.61" fill="#666"/>
<circle cx="233.0" cy="380.7" r="0.96" fill="#666"/>
<circle cx="229.5" cy="384.0" r="0.55" fill="#666"/>
<ellipse cx="279.1" cy="230.9" rx="0.9" ry="1.8" fill="#111"/>
<ellipse cx="276.8" cy="236.8" rx="1.1" ry="1.2" fill="#111"/>
<ellipse cx="282.7" cy="241.5" rx="0.9" ry="0.9" fill="#111"/>
<ellipse cx="276.5" cy="245.3" rx="1.7" ry="1.5" fill="#111"/>
<ellipse cx="274.6" cy="239" rx="0.6" ry="0.6" fill="#111"/>
<ellipse cx="277.5" cy="316" rx="0.7" ry="0.7" fill="#111"/>
<ellipse cx="283" cy="306.5" rx="0.6" ry="0.6" fill="#111"/>
<ellipse cx="276.5" cy="327" rx="0.7" ry="0.7" fill="#111"/>
<ellipse cx="325" cy="272" rx="0.6" ry="0.6" fill="#111"/>
</g>
<text class="ml" x="172.7" y="704.1">CD</text>
<text class="ml" x="118.6" y="728.8">ZJK</text>
<text class="ml" x="155.5" y="746.8">BJ</text>
<text class="ml" x="171.9" y="757.6">LF</text>
<text class="ml" x="204.2" y="757.6">TS</text>
<text class="ml" x="230.2" y="742.7">QHD</text>
<text class="ml" x="182.9" y="776.6">TJ</text>
<text class="ml" x="163.2" y="787.1">LF</text>
<text class="ml" x="131.1" y="793.3">BD</text>
<text class="ml" x="174.1" y="816.2">CZ</text>
<text class="ml" x="118.6" y="828.3">SJZ</text>
<text class="ml" x="150.3" y="837.7">HS</text>
<text class="ml" x="202.8" y="829.5">BZ</text>
<text class="ml" x="222.8" y="835.5">DY</text>
<text class="ml" x="284.9" y="836.8">YT</text>
<text class="ml" x="313.6" y="830.1">WH</text>
<text class="ml" x="124.9" y="858.6">XT</text>
<text class="ml" x="172.2" y="851.4">DZ</text>
<text class="ml" x="269" y="858.3">QD</text>
<text class="ml" x="191.3" y="867">JN</text>
<text class="ml" x="210.2" y="869.4">ZB</text>
<text class="ml" x="237.6" y="867.5">WF</text>
<text class="ml" x="120.2" y="882">HD</text>
<text class="ml" x="156.3" y="882">LC</text>
<text class="ml" x="188.6" y="891.4">TA</text>
<text class="ml" x="246.6" y="900.8">RZ</text>
<text class="ml" x="117.2" y="901.3">AY</text>
<text class="ml" x="139.1" y="905.7">PY</text>
<text class="ml" x="183.7" y="912.9">JN</text>
<text class="ml" x="219.2" y="915.6">LY</text>
<text class="ml" x="117.2" y="916.5">HB</text>
<text class="ml" x="155.5" y="925.6">HZ</text>
<text class="ml" x="111.2" y="928.8">XX</text>
<text class="ml" x="87.1" y="936.3">JZ</text>
<text class="ml" x="67.4" y="939.5">JY</text>
<text class="ml" x="202.8" y="930.1">ZZ</text>
<text class="ml" x="97.5" y="953.6">ZZ</text>
<text class="ml" x="125.4" y="950.8">KF</text>
<text class="ml" x="157.7" y="957">SQ</text>
<text class="ml" x="26.4" y="967.8">SMX</text>
<text class="ml" x="58.6" y="967.8">LY</text>
<text class="ml" x="108.4" y="971.8">XC</text>
<text class="ml" x="86" y="983.9">PDS</text>
<text class="ml" x="113.4" y="985.8">LH</text>
<text class="ml" x="138" y="983.3">ZK</text>
<text class="ml" x="66.9" y="1012.1">NY</text>
<text class="ml" x="123.5" y="1011.6">ZMD</text>
<text class="ml" x="152.8" y="1039.6">XY</text>
<text x="350.7" y="640.4" font-family="'Liberation Sans',Arial,sans-serif" font-size="13" text-anchor="middle" fill="#111">N</text>
<path d="M350.6,645.9 L340.8,678.7 L350.6,666.9Z" fill="#000" stroke="#000" stroke-width="0.6"/>
<path d="M350.6,645.9 L360.3,678.2 L350.6,666.9Z" fill="#fff" stroke="#000" stroke-width="1.1" stroke-linejoin="miter"/>
<path d="M319.3,715.1 V725.4 H380.3 V715.1 M349.9,715.1 V725.4" fill="none" stroke="#111" stroke-width="1.6"/>
<text class="sbl" x="319.7" y="707.1">0</text><text class="sbl" x="349.9" y="707.1">100</text><text class="sbl" x="369.6" y="707.1" style="text-anchor:start">200 km</text>
<text class="t" x="271.9" y="915.8" font-size="16.8">Legend</text>
<text class="t" x="271.9" y="936.7" font-size="14.4">Unit:km²/Year</text>
<rect x="268.5" y="945" width="32.1" height="16" fill="#fdeae2" stroke="#9c8686" stroke-width="0.8"/>
<text class="lg" x="310.5" y="956.4">0.00 - 0.64</text>
<rect x="268.5" y="966.9" width="32.1" height="16" fill="#fac8c2" stroke="#9c8686" stroke-width="0.8"/>
<text class="lg" x="310.5" y="983.5">0.64 - 1.38</text>
<rect x="268.5" y="988.8" width="32.1" height="16" fill="#f6a3b8" stroke="#9c8686" stroke-width="0.8"/>
<text class="lg" x="310.5" y="1004.9">1.38 - 5.59</text>
<rect x="268.5" y="1010.8" width="32.1" height="16" fill="#f0669f" stroke="#9c8686" stroke-width="0.8"/>
<text class="lg" x="310.5" y="1025.9">5.59 - 17.07</text>
<rect x="268.5" y="1033.1" width="32.1" height="16" fill="#c11c89" stroke="#c11c89" stroke-width="0.8"/>
<text class="lg" x="310.5" y="1047.4">17.07 - 39.48</text>
<rect x="268.5" y="1055.6" width="32.1" height="16" fill="#701a7b" stroke="#701a7b" stroke-width="0.8"/>
<text class="lg" x="310.5" y="1069">39.48 - 95.30</text>
<rect x="487.5" y="624.1" width="267" height="437.8" fill="#ececec" stroke="#3c3c3c" stroke-width="1.3"/>
<text class="t" x="481.5" y="624.6" font-size="11.6" text-anchor="end">City</text>
<text class="cl" x="483.6" y="635.5">Luohe</text>
<text class="cl" x="483.6" y="644.6">Xuchang</text>
<text class="cl" x="483.6" y="653.8">Hengshui</text>
<text class="cl" x="483.6" y="662.9">Langfang</text>
<text class="cl" x="483.6" y="672.1">Tianjin</text>
<text class="cl" x="483.6" y="681.2">Xinyang</text>
<text class="cl" x="483.6" y="690.4">Pingdingshan</text>
<text class="cl" x="483.6" y="699.5">Weifang</text>
<text class="cl" x="483.6" y="708.7">Shangqiu</text>
<text class="cl" x="483.6" y="717.8">Jiyuan</text>
<text class="cl" x="483.6" y="727">Luoyang</text>
<text class="cl" x="483.6" y="736.1">Beijing</text>
<text class="cl" x="483.6" y="745.2">Yantai</text>
<text class="cl" x="483.6" y="754.4">Nanyang</text>
<text class="cl" x="483.6" y="763.5">Kaifeng</text>
<text class="cl" x="483.6" y="772.7">Taian</text>
<text class="cl" x="483.6" y="781.8">Sanmenxia</text>
<text class="cl" x="483.6" y="791">Cangzhou</text>
<text class="cl" x="483.6" y="800.1">Zhengzhou</text>
<text class="cl" x="483.6" y="809.3">Jining</text>
<text class="cl" x="483.6" y="818.4">Liaocheng</text>
<text class="cl" x="483.6" y="827.6">Chengde</text>
<text class="cl" x="483.6" y="836.7">Jiaozuo</text>
<text class="cl" x="483.6" y="845.9">Zibo</text>
<text class="cl" x="483.6" y="855">Dezhou</text>
<text class="cl" x="483.6" y="864.1">Zhangjiakou</text>
<text class="cl" x="483.6" y="873.3">Xinxiang</text>
<text class="cl" x="483.6" y="882.4">Qingdao</text>
<text class="cl" x="483.6" y="891.6">Zhumadian</text>
<text class="cl" x="483.6" y="900.7">Heze</text>
<text class="cl" x="483.6" y="909.9">Baoding</text>
<text class="cl" x="483.6" y="919">Hebi</text>
<text class="cl" x="483.6" y="928.2">Dongying</text>
<text class="cl" x="483.6" y="937.3">Zhoukou</text>
<text class="cl" x="483.6" y="946.5">Binzhou</text>
<text class="cl" x="483.6" y="955.6">Xingtai</text>
<text class="cl" x="483.6" y="964.7">Anyang</text>
<text class="cl" x="483.6" y="973.9">Zaozhuang</text>
<text class="cl" x="483.6" y="983">Rizhao</text>
<text class="cl" x="483.6" y="992.2">Handan</text>
<text class="cl" x="483.6" y="1001.3">Qinhuangdao</text>
<text class="cl" x="483.6" y="1010.5">Weihai</text>
<text class="cl" x="483.6" y="1019.6">Tangshan</text>
<text class="cl" x="483.6" y="1028.8">Linyi</text>
<text class="cl" x="483.6" y="1037.9">Jinan</text>
<text class="cl" x="483.6" y="1047.1">Shijiazhuang</text>
<text class="cl" x="483.6" y="1056.2">Puyang</text>
<text class="tk" x="487.5" y="1073.5">0</text>
<text class="tk" x="540.8" y="1073.5">20</text>
<text class="tk" x="594.1" y="1073.5">40</text>
<text class="tk" x="647.3" y="1073.5">60</text>
<text class="tk" x="700.6" y="1073.5">80</text>
<text class="tk" x="753.9" y="1073.5">100</text>
<path d="M487.5,632.8h3.6M487.5,641.9h3.6M487.5,651.1h3.6M487.5,660.2h3.6M487.5,669.4h3.6M487.5,678.5h3.6M487.5,687.7h3.6M487.5,696.8h3.6M487.5,706h3.6M487.5,715.1h3.6M487.5,724.3h3.6M487.5,733.4h3.6M487.5,742.5h3.6M487.5,751.7h3.6M487.5,760.8h3.6M487.5,770h3.6M487.5,779.1h3.6M487.5,788.3h3.6M487.5,797.4h3.6M487.5,806.6h3.6M487.5,815.7h3.6M487.5,824.9h3.6M487.5,834h3.6M487.5,843.1h3.6M487.5,852.3h3.6M487.5,861.4h3.6M487.5,870.6h3.6M487.5,879.7h3.6M487.5,888.9h3.6M487.5,898h3.6M487.5,907.2h3.6M487.5,916.3h3.6M487.5,925.5h3.6M487.5,934.6h3.6M487.5,943.8h3.6M487.5,952.9h3.6M487.5,962h3.6M487.5,971.2h3.6M487.5,980.3h3.6M487.5,989.5h3.6M487.5,998.6h3.6M487.5,1007.8h3.6M487.5,1016.9h3.6M487.5,1026.1h3.6M487.5,1035.2h3.6M487.5,1044.4h3.6M487.5,1053.5h3.6M487.5,1061.9v-3.4M540.8,1061.9v-3.4M594.1,1061.9v-3.4M647.3,1061.9v-3.4M700.6,1061.9v-3.4M753.9,1061.9v-3.4" stroke="#333" stroke-width="1" fill="none"/>
<clipPath id="cc-c"><rect x="487.5" y="624.1" width="270" height="437.8"/></clipPath><g clip-path="url(#cc-c)">
<circle class="dot" cx="493.6" cy="632.8" r="2.55"/>
<circle class="dot" cx="501.9" cy="641.9" r="2.55"/>
<circle class="dot" cx="510.1" cy="651.1" r="2.55"/>
<circle class="dot" cx="528" cy="660.2" r="2.55"/>
<circle class="dot" cx="568.2" cy="669.4" r="2.55"/>
<circle class="dot" cx="505.1" cy="678.5" r="2.55"/>
<circle class="dot" cx="506.1" cy="687.7" r="2.55"/>
<circle class="dot" cx="589.8" cy="696.8" r="2.55"/>
<circle class="dot" cx="508" cy="706" r="2.55"/>
<circle class="dot" cx="489.1" cy="715.1" r="2.55"/>
<circle class="dot" cx="518.7" cy="724.3" r="2.55"/>
<circle class="dot" cx="741.4" cy="733.4" r="2.55"/>
<circle class="dot" cx="549.6" cy="742.5" r="2.55"/>
<circle class="dot" cx="505.6" cy="751.7" r="2.55"/>
<circle class="dot" cx="499.8" cy="760.8" r="2.55"/>
<circle class="dot" cx="533.3" cy="770" r="2.55"/>
<circle class="dot" cx="493.6" cy="779.1" r="2.55"/>
<circle class="dot" cx="510.9" cy="788.3" r="2.55"/>
<circle class="dot" cx="563.4" cy="797.4" r="2.55"/>
<circle class="dot" cx="547.4" cy="806.6" r="2.55"/>
<circle class="dot" cx="540.8" cy="815.7" r="2.55"/>
<circle class="dot" cx="503" cy="824.9" r="2.55"/>
<circle class="dot" cx="500.8" cy="834" r="2.55"/>
<circle class="dot" cx="538.1" cy="843.1" r="2.55"/>
<circle class="dot" cx="532.3" cy="852.3" r="2.55"/>
<circle class="dot" cx="511.2" cy="861.4" r="2.55"/>
<circle class="dot" cx="511.7" cy="870.6" r="2.55"/>
<circle class="dot" cx="555.4" cy="879.7" r="2.55"/>
<circle class="dot" cx="502.7" cy="888.9" r="2.55"/>
<circle class="dot" cx="554.6" cy="898" r="2.55"/>
<circle class="dot" cx="526.7" cy="907.2" r="2.55"/>
<circle class="dot" cx="492.3" cy="916.3" r="2.55"/>
<circle class="dot" cx="536.5" cy="925.5" r="2.55"/>
<circle class="dot" cx="500.8" cy="934.6" r="2.55"/>
<circle class="dot" cx="544.2" cy="943.8" r="2.55"/>
<circle class="dot" cx="523.5" cy="952.9" r="2.55"/>
<circle class="dot" cx="505.6" cy="962" r="2.55"/>
<circle class="dot" cx="518.1" cy="971.2" r="2.55"/>
<circle class="dot" cx="518.4" cy="980.3" r="2.55"/>
<circle class="dot" cx="540.8" cy="989.5" r="2.55"/>
<circle class="dot" cx="506.1" cy="998.6" r="2.55"/>
<circle class="dot" cx="517.1" cy="1007.8" r="2.55"/>
<circle class="dot" cx="531.5" cy="1016.9" r="2.55"/>
<circle class="dot" cx="616.4" cy="1026.1" r="2.55"/>
<circle class="dot" cx="599.1" cy="1035.2" r="2.55"/>
<circle class="dot" cx="579.1" cy="1044.4" r="2.55"/>
<circle class="dot" cx="496" cy="1053.5" r="2.55"/>
</g>
<text class="t" x="620.6" y="1088.5" font-size="11.6" text-anchor="middle">Speed(km<tspan dy="-4" font-size="7.5">2</tspan><tspan dy="4">/year)</tspan></text>
</g>
<g id="panel-d">
<rect x="775" y="560.5" width="748.8" height="52.5" fill="#ececec" stroke="#3c3c3c" stroke-width="1.1"/>
<text class="t" x="1045.6" y="600.2" font-size="31.5">d.2010-2020</text>
<rect x="775" y="621.3" width="406.4" height="466.7" fill="#fff" stroke="#3c3c3c" stroke-width="1"/>
<text class="r" x="787.9" y="653.5" font-size="21.5">d.2010-2020</text>
<g transform="matrix(1 0 0 0.978 761.5 570.3)" stroke-linejoin="round">
<g clip-path="url(#mapclip)">
<g stroke-width="2.4"><use href="#m-CD" fill="#fdeae2" stroke="#fdeae2"/><use href="#m-ZJK" fill="#f4b2bd" stroke="#f4b2bd"/><use href="#m-QHD" fill="#ec659c" stroke="#ec659c"/><use href="#m-TS" fill="#ec659c" stroke="#ec659c"/><use href="#m-BD" fill="#ec659c" stroke="#ec659c"/><use href="#m-SJZ" fill="#f4b2bd" stroke="#f4b2bd"/><use href="#m-XT" fill="#ec659c" stroke="#ec659c"/><use href="#m-HD" fill="#ec659c" stroke="#ec659c"/><use href="#m-HS" fill="#ec659c" stroke="#ec659c"/><use href="#m-CZ" fill="#f4b2bd" stroke="#f4b2bd"/><use href="#m-DZ" fill="#ec659c" stroke="#ec659c"/><use href="#m-LC" fill="#ec659c" stroke="#ec659c"/><use href="#m-BZ" fill="#ec659c" stroke="#ec659c"/><use href="#m-DY" fill="#fdeae2" stroke="#fdeae2"/><use href="#m-WF" fill="#ec659c" stroke="#ec659c"/><use href="#m-QD" fill="#f4b2bd" stroke="#f4b2bd"/><use href="#m-YT" fill="#ec659c" stroke="#ec659c"/><use href="#m-WH" fill="#fdeae2" stroke="#fdeae2"/><use href="#m-RZ" fill="#f4b2bd" stroke="#f4b2bd"/><use href="#m-LYi" fill="#f4b2bd" stroke="#f4b2bd"/><use href="#m-JNg" fill="#ec659c" stroke="#ec659c"/><use href="#m-ZZa" fill="#fdeae2" stroke="#fdeae2"/><use href="#m-HZ" fill="#ec659c" stroke="#ec659c"/><use href="#m-TA" fill="#f4b2bd" stroke="#f4b2bd"/><use href="#m-JNa" fill="#ec659c" stroke="#ec659c"/><use href="#m-ZB" fill="#f4b2bd" stroke="#f4b2bd"/><use href="#m-AY" fill="#ec659c" stroke="#ec659c"/><use href="#m-XX" fill="#ec659c" stroke="#ec659c"/><use href="#m-PY" fill="#f4b2bd" stroke="#f4b2bd"/><use href="#m-HB" fill="#f4b2bd" stroke="#f4b2bd"/><use href="#m-JZ" fill="#f4b2bd" stroke="#f4b2bd"/><use href="#m-JY" fill="#fdeae2" stroke="#fdeae2"/><use href="#m-ZZh" fill="#ec659c" stroke="#ec659c"/><use href="#m-KF" fill="#f4b2bd" stroke="#f4b2bd"/><use href="#m-SQ" fill="#ec659c" stroke="#ec659c"/><use href="#m-ZK" fill="#ec659c" stroke="#ec659c"/><use href="#m-XC" fill="#f4b2bd" stroke="#f4b2bd"/><use href="#m-LH" fill="#f4b2bd" stroke="#f4b2bd"/><use href="#m-PDS" fill="#f4b2bd" stroke="#f4b2bd"/><use href="#m-LYo" fill="#f4b2bd" stroke="#f4b2bd"/><use href="#m-SMX" fill="#fdeae2" stroke="#fdeae2"/><use href="#m-NY" fill="#ec659c" stroke="#ec659c"/><use href="#m-ZMD" fill="#ec659c" stroke="#ec659c"/><use href="#m-XY" fill="#f4b2bd" stroke="#f4b2bd"/><use href="#m-BJ" fill="#f4b2bd" stroke="#f4b2bd"/><use href="#m-TJ" fill="#ec659c" stroke="#ec659c"/><use href="#m-LFl" fill="#f4b2bd" stroke="#f4b2bd"/><use href="#m-LFu" fill="#f4b2bd" stroke="#f4b2bd"/></g>
<g stroke="#7a6870" stroke-width="0.8"><use href="#m-CD" fill="#fdeae2"/><use href="#m-ZJK" fill="#f4b2bd"/><use href="#m-QHD" fill="#ec659c"/><use href="#m-TS" fill="#ec659c"/><use href="#m-BD" fill="#ec659c"/><use href="#m-SJZ" fill="#f4b2bd"/><use href="#m-XT" fill="#ec659c"/><use href="#m-HD" fill="#ec659c"/><use href="#m-HS" fill="#ec659c"/><use href="#m-CZ" fill="#f4b2bd"/><use href="#m-DZ" fill="#ec659c"/><use href="#m-LC" fill="#ec659c"/><use href="#m-BZ" fill="#ec659c"/><use href="#m-DY" fill="#fdeae2"/><use href="#m-WF" fill="#ec659c"/><use href="#m-QD" fill="#f4b2bd"/><use href="#m-YT" fill="#ec659c"/><use href="#m-WH" fill="#fdeae2"/><use href="#m-RZ" fill="#f4b2bd"/><use href="#m-LYi" fill="#f4b2bd"/><use href="#m-JNg" fill="#ec659c"/><use href="#m-ZZa" fill="#fdeae2"/><use href="#m-HZ" fill="#ec659c"/><use href="#m-TA" fill="#f4b2bd"/><use href="#m-JNa" fill="#ec659c"/><use href="#m-ZB" fill="#f4b2bd"/><use href="#m-AY" fill="#ec659c"/><use href="#m-XX" fill="#ec659c"/><use href="#m-PY" fill="#f4b2bd"/><use href="#m-HB" fill="#f4b2bd"/><use href="#m-JZ" fill="#f4b2bd"/><use href="#m-JY" fill="#fdeae2"/><use href="#m-ZZh" fill="#ec659c"/><use href="#m-KF" fill="#f4b2bd"/><use href="#m-SQ" fill="#ec659c"/><use href="#m-ZK" fill="#ec659c"/><use href="#m-XC" fill="#f4b2bd"/><use href="#m-LH" fill="#f4b2bd"/><use href="#m-PDS" fill="#f4b2bd"/><use href="#m-LYo" fill="#f4b2bd"/><use href="#m-SMX" fill="#fdeae2"/><use href="#m-NY" fill="#ec659c"/><use href="#m-ZMD" fill="#ec659c"/><use href="#m-XY" fill="#f4b2bd"/><use href="#m-BJ" fill="#f4b2bd"/><use href="#m-TJ" fill="#ec659c"/><use href="#m-LFl" fill="#f4b2bd"/><use href="#m-LFu" fill="#f4b2bd"/></g>
</g>
<use href="#m-outline" fill="none" stroke="#3a3a3a" stroke-width="1.0"/>
<ellipse cx="273.1" cy="311.9" rx="1.5" ry="2.1" fill="#fff" stroke="#3a3a3a" stroke-width="1.0"/>
<circle cx="226.8" cy="247.8" r="0.54" fill="#3a3a3a"/>
<circle cx="230.4" cy="245.7" r="0.78" fill="#3a3a3a"/>
<circle cx="233.5" cy="249.9" r="0.55" fill="#3a3a3a"/>
<circle cx="236.3" cy="253.5" r="0.62" fill="#3a3a3a"/>
<circle cx="237.5" cy="262.8" r="0.53" fill="#3a3a3a"/>
<circle cx="233.3" cy="268.9" r="0.67" fill="#3a3a3a"/>
<circle cx="239.2" cy="277.3" r="0.7" fill="#3a3a3a"/>
<circle cx="243.7" cy="279.4" r="0.61" fill="#3a3a3a"/>
<circle cx="255.0" cy="278.4" r="0.75" fill="#3a3a3a"/>
<circle cx="259.2" cy="275.1" r="0.63" fill="#3a3a3a"/>
<circle cx="259.1" cy="270.8" r="0.9" fill="#3a3a3a"/>
<circle cx="262.7" cy="265.3" r="0.73" fill="#3a3a3a"/>
<circle cx="267.3" cy="255.7" r="0.87" fill="#3a3a3a"/>
<circle cx="277.7" cy="249.9" r="0.88" fill="#3a3a3a"/>
<circle cx="281.7" cy="249.1" r="0.96" fill="#3a3a3a"/>
<circle cx="289.0" cy="253.4" r="0.89" fill="#3a3a3a"/>
<circle cx="306.0" cy="259.1" r="0.51" fill="#3a3a3a"/>
<circle cx="310.2" cy="254.7" r="0.53" fill="#3a3a3a"/>
<circle cx="318.6" cy="255.4" r="0.98" fill="#3a3a3a"/>
<circle cx="323.9" cy="257.6" r="0.99" fill="#3a3a3a"/>
<circle cx="330.3" cy="267.1" r="0.99" fill="#3a3a3a"/>
<circle cx="324.3" cy="276.3" r="0.63" fill="#3a3a3a"/>
<circle cx="320.7" cy="274.0" r="0.5" fill="#3a3a3a"/>
<circle cx="316.6" cy="277.1" r="1.02" fill="#3a3a3a"/>
<circle cx="309.0" cy="283.3" r="0.53" fill="#3a3a3a"/>
<circle cx="290.1" cy="297.2" r="0.85" fill="#3a3a3a"/>
<circle cx="286.3" cy="301.0" r="0.59" fill="#3a3a3a"/>
<circle cx="286.8" cy="306.4" r="0.58" fill="#3a3a3a"/>
<circle cx="283.5" cy="310.6" r="0.98" fill="#3a3a3a"/>
<circle cx="276.1" cy="310.8" r="0.7" fill="#3a3a3a"/>
<circle cx="274.1" cy="313.7" r="0.76" fill="#3a3a3a"/>
<circle cx="273.3" cy="314.9" r="0.69" fill="#3a3a3a"/>
<circle cx="277.6" cy="317.4" r="0.51" fill="#3a3a3a"/>
<circle cx="268.8" cy="327.8" r="0.51" fill="#3a3a3a"/>
<circle cx="267.4" cy="332.8" r="0.88" fill="#3a3a3a"/>
<circle cx="262.3" cy="332.8" r="0.92" fill="#3a3a3a"/>
<circle cx="261.5" cy="337.9" r="0.62" fill="#3a3a3a"/>
<circle cx="244.5" cy="360.4" r="0.52" fill="#3a3a3a"/>
<circle cx="242.7" cy="364.9" r="0.88" fill="#3a3a3a"/>
<circle cx="238.5" cy="372.7" r="1.03" fill="#3a3a3a"/>
<circle cx="234.3" cy="374.2" r="0.61" fill="#3a3a3a"/>
<circle cx="233.0" cy="380.7" r="0.96" fill="#3a3a3a"/>
<circle cx="229.5" cy="384.0" r="0.55" fill="#3a3a3a"/>
<ellipse cx="279.1" cy="230.9" rx="0.9" ry="1.8" fill="#111"/>
<ellipse cx="276.8" cy="236.8" rx="1.1" ry="1.2" fill="#111"/>
<ellipse cx="282.7" cy="241.5" rx="0.9" ry="0.9" fill="#111"/>
<ellipse cx="276.5" cy="245.3" rx="1.7" ry="1.5" fill="#111"/>
<ellipse cx="274.6" cy="239" rx="0.6" ry="0.6" fill="#111"/>
<ellipse cx="277.5" cy="316" rx="0.7" ry="0.7" fill="#111"/>
<ellipse cx="283" cy="306.5" rx="0.6" ry="0.6" fill="#111"/>
<ellipse cx="276.5" cy="327" rx="0.7" ry="0.7" fill="#111"/>
<ellipse cx="325" cy="272" rx="0.6" ry="0.6" fill="#111"/>
</g>
<text class="ml" x="935.2" y="706.7">CD</text>
<text class="ml" x="881.1" y="731.4">ZJK</text>
<text class="ml" x="918" y="749.2">BJ</text>
<text class="ml" x="934.4" y="760">LF</text>
<text class="ml" x="966.7" y="760">TS</text>
<text class="ml" x="992.7" y="745.2">QHD</text>
<text class="ml" x="945.4" y="779">TJ</text>
<text class="ml" x="925.7" y="789.4">LF</text>
<text class="ml" x="893.6" y="795.6">BD</text>
<text class="ml" x="936.6" y="818.4">CZ</text>
<text class="ml" x="881.1" y="830.4">SJZ</text>
<text class="ml" x="912.8" y="839.8">HS</text>
<text class="ml" x="965.3" y="831.7">BZ</text>
<text class="ml" x="985.3" y="837.7">DY</text>
<text class="ml" x="1047.4" y="838.9">YT</text>
<text class="ml" x="1076.1" y="832.3">WH</text>
<text class="ml" x="887.4" y="860.6">XT</text>
<text class="ml" x="934.7" y="853.4">DZ</text>
<text class="ml" x="1031.5" y="860.3">QD</text>
<text class="ml" x="953.8" y="869">JN</text>
<text class="ml" x="972.7" y="871.4">ZB</text>
<text class="ml" x="1000.1" y="869.4">WF</text>
<text class="ml" x="882.7" y="883.9">HD</text>
<text class="ml" x="918.8" y="883.9">LC</text>
<text class="ml" x="951.1" y="893.3">TA</text>
<text class="ml" x="1009.1" y="902.7">RZ</text>
<text class="ml" x="879.7" y="903.2">AY</text>
<text class="ml" x="901.6" y="907.5">PY</text>
<text class="ml" x="946.2" y="914.7">JN</text>
<text class="ml" x="981.7" y="917.4">LY</text>
<text class="ml" x="879.7" y="918.2">HB</text>
<text class="ml" x="918" y="927.3">HZ</text>
<text class="ml" x="873.7" y="930.6">XX</text>
<text class="ml" x="849.6" y="938">JZ</text>
<text class="ml" x="829.9" y="941.2">JY</text>
<text class="ml" x="965.3" y="931.8">ZZ</text>
<text class="ml" x="860" y="955.2">ZZ</text>
<text class="ml" x="887.9" y="952.5">KF</text>
<text class="ml" x="920.2" y="958.6">SQ</text>
<text class="ml" x="788.9" y="969.4">SMX</text>
<text class="ml" x="821.1" y="969.4">LY</text>
<text class="ml" x="870.9" y="973.4">XC</text>
<text class="ml" x="848.5" y="985.4">PDS</text>
<text class="ml" x="875.9" y="987.3">LH</text>
<text class="ml" x="900.5" y="984.8">ZK</text>
<text class="ml" x="829.4" y="1013.5">NY</text>
<text class="ml" x="886" y="1013">ZMD</text>
<text class="ml" x="915.3" y="1040.9">XY</text>
<text x="1089.2" y="642.4" font-family="'Liberation Sans',Arial,sans-serif" font-size="13" text-anchor="middle" fill="#111">N</text>
<path d="M1089.1,647.1 L1079.5,679.9 L1089.1,668.7Z" fill="#000" stroke="#000" stroke-width="0.6"/>
<path d="M1089.1,647.1 L1098.6,679.7 L1089.1,668.7Z" fill="#fff" stroke="#000" stroke-width="1.1" stroke-linejoin="miter"/>
<path d="M1058.5,715.9 V726.3 H1118.2 V715.9 M1088.3,715.9 V726.3" fill="none" stroke="#111" stroke-width="1.6"/>
<text class="sbl" x="1058.9" y="708.3">0</text><text class="sbl" x="1088.3" y="708.3">100</text><text class="sbl" x="1107.5" y="708.3" style="text-anchor:start">200 km</text>
<text class="t" x="1041.8" y="914.8" font-size="16.8">Legend</text>
<text class="t" x="1041.8" y="935.4" font-size="14.4">Unit:km²/Year</text>
<rect x="1038.6" y="943.4" width="32" height="16.3" fill="#fdeae2" stroke="#9c8686" stroke-width="0.8"/>
<text class="lg" x="1080" y="954.9">0.00 - 0.64</text>
<rect x="1038.6" y="965.4" width="32" height="16.3" fill="#fac8c2" stroke="#9c8686" stroke-width="0.8"/>
<text class="lg" x="1080" y="982">0.64 - 1.38</text>
<rect x="1038.6" y="987.3" width="32" height="16.3" fill="#f6a3b8" stroke="#9c8686" stroke-width="0.8"/>
<text class="lg" x="1080" y="1003">1.38 - 5.59</text>
<rect x="1038.6" y="1009.6" width="32" height="16.3" fill="#f0669f" stroke="#9c8686" stroke-width="0.8"/>
<text class="lg" x="1080" y="1024.1">5.59 - 17.07</text>
<rect x="1038.6" y="1031.8" width="32" height="16.3" fill="#c11c89" stroke="#c11c89" stroke-width="0.8"/>
<text class="lg" x="1080" y="1045.5">17.07 - 39.48</text>
<rect x="1038.6" y="1053.7" width="32" height="16.3" fill="#701a7b" stroke="#701a7b" stroke-width="0.8"/>
<text class="lg" x="1080" y="1066.5">39.48 - 95.30</text>
<rect x="1254.1" y="624.6" width="270.6" height="437.3" fill="#ececec" stroke="#3c3c3c" stroke-width="1.3"/>
<text class="t" x="1247.5" y="626" font-size="11.6" text-anchor="end">City</text>
<text class="cl" x="1250.2" y="635.7">Luohe</text>
<text class="cl" x="1250.2" y="644.8">Xuchang</text>
<text class="cl" x="1250.2" y="654">Hengshui</text>
<text class="cl" x="1250.2" y="663.1">Langfang</text>
<text class="cl" x="1250.2" y="672.3">Tianjin</text>
<text class="cl" x="1250.2" y="681.4">Xinyang</text>
<text class="cl" x="1250.2" y="690.5">Pingdingshan</text>
<text class="cl" x="1250.2" y="699.7">Weifang</text>
<text class="cl" x="1250.2" y="708.8">Shangqiu</text>
<text class="cl" x="1250.2" y="718">Jiyuan</text>
<text class="cl" x="1250.2" y="727.1">Luoyang</text>
<text class="cl" x="1250.2" y="736.3">Beijing</text>
<text class="cl" x="1250.2" y="745.4">Yantai</text>
<text class="cl" x="1250.2" y="754.5">Nanyang</text>
<text class="cl" x="1250.2" y="763.7">Kaifeng</text>
<text class="cl" x="1250.2" y="772.8">Taian</text>
<text class="cl" x="1250.2" y="782">Sanmenxia</text>
<text class="cl" x="1250.2" y="791.1">Cangzhou</text>
<text class="cl" x="1250.2" y="800.2">Zhengzhou</text>
<text class="cl" x="1250.2" y="809.4">Jining</text>
<text class="cl" x="1250.2" y="818.5">Liaocheng</text>
<text class="cl" x="1250.2" y="827.7">Chengde</text>
<text class="cl" x="1250.2" y="836.8">Jiaozuo</text>
<text class="cl" x="1250.2" y="846">Zibo</text>
<text class="cl" x="1250.2" y="855.1">Dezhou</text>
<text class="cl" x="1250.2" y="864.2">Zhangjiakou</text>
<text class="cl" x="1250.2" y="873.4">Xinxiang</text>
<text class="cl" x="1250.2" y="882.5">Qingdao</text>
<text class="cl" x="1250.2" y="891.7">Zhumadian</text>
<text class="cl" x="1250.2" y="900.8">Heze</text>
<text class="cl" x="1250.2" y="909.9">Baoding</text>
<text class="cl" x="1250.2" y="919.1">Hebi</text>
<text class="cl" x="1250.2" y="928.2">Dongying</text>
<text class="cl" x="1250.2" y="937.4">Zhoukou</text>
<text class="cl" x="1250.2" y="946.5">Binzhou</text>
<text class="cl" x="1250.2" y="955.6">Xingtai</text>
<text class="cl" x="1250.2" y="964.8">Anyang</text>
<text class="cl" x="1250.2" y="973.9">Zaozhuang</text>
<text class="cl" x="1250.2" y="983.1">Rizhao</text>
<text class="cl" x="1250.2" y="992.2">Handan</text>
<text class="cl" x="1250.2" y="1001.4">Qinhuangdao</text>
<text class="cl" x="1250.2" y="1010.5">Weihai</text>
<text class="cl" x="1250.2" y="1019.6">Tangshan</text>
<text class="cl" x="1250.2" y="1028.8">Linyi</text>
<text class="cl" x="1250.2" y="1037.9">Jinan</text>
<text class="cl" x="1250.2" y="1047.1">Shijiazhuang</text>
<text class="cl" x="1250.2" y="1056.2">Puyang</text>
<text class="tk" x="1254.1" y="1073.5">0</text>
<text class="tk" x="1321.6" y="1073.5">5</text>
<text class="tk" x="1389.1" y="1073.5">10</text>
<text class="tk" x="1456.6" y="1073.5">15</text>
<text class="tk" x="1524.1" y="1073.5">20</text>
<path d="M1254.1,633h3.6M1254.1,642.1h3.6M1254.1,651.3h3.6M1254.1,660.4h3.6M1254.1,669.6h3.6M1254.1,678.7h3.6M1254.1,687.8h3.6M1254.1,697h3.6M1254.1,706.1h3.6M1254.1,715.3h3.6M1254.1,724.4h3.6M1254.1,733.6h3.6M1254.1,742.7h3.6M1254.1,751.8h3.6M1254.1,761h3.6M1254.1,770.1h3.6M1254.1,779.3h3.6M1254.1,788.4h3.6M1254.1,797.5h3.6M1254.1,806.7h3.6M1254.1,815.8h3.6M1254.1,825h3.6M1254.1,834.1h3.6M1254.1,843.2h3.6M1254.1,852.4h3.6M1254.1,861.5h3.6M1254.1,870.7h3.6M1254.1,879.8h3.6M1254.1,889h3.6M1254.1,898.1h3.6M1254.1,907.2h3.6M1254.1,916.4h3.6M1254.1,925.5h3.6M1254.1,934.7h3.6M1254.1,943.8h3.6M1254.1,952.9h3.6M1254.1,962.1h3.6M1254.1,971.2h3.6M1254.1,980.4h3.6M1254.1,989.5h3.6M1254.1,998.7h3.6M1254.1,1007.8h3.6M1254.1,1016.9h3.6M1254.1,1026.1h3.6M1254.1,1035.2h3.6M1254.1,1044.4h3.6M1254.1,1053.5h3.6M1254.1,1061.9v-3.4M1321.6,1061.9v-3.4M1389.1,1061.9v-3.4M1456.6,1061.9v-3.4M1524.1,1061.9v-3.4" stroke="#333" stroke-width="1" fill="none"/>
<clipPath id="cc-d"><rect x="1254.1" y="624.6" width="273.6" height="437.3"/></clipPath><g clip-path="url(#cc-d)">
<circle class="dot" cx="1288.8" cy="633" r="2.55"/>
<circle class="dot" cx="1300.4" cy="642.1" r="2.55"/>
<circle class="dot" cx="1352.1" cy="651.3" r="2.55"/>
<circle class="dot" cx="1324.8" cy="660.4" r="2.55"/>
<circle class="dot" cx="1484.4" cy="669.6" r="2.55"/>
<circle class="dot" cx="1297" cy="678.7" r="2.55"/>
<circle class="dot" cx="1308" cy="687.8" r="2.55"/>
<circle class="dot" cx="1331.5" cy="697" r="2.55"/>
<circle class="dot" cx="1347" cy="706.1" r="2.55"/>
<circle class="dot" cx="1261.1" cy="715.3" r="2.55"/>
<circle class="dot" cx="1299.5" cy="724.4" r="2.55"/>
<circle class="dot" cx="1297" cy="733.6" r="2.55"/>
<circle class="dot" cx="1333.2" cy="742.7" r="2.55"/>
<circle class="dot" cx="1364.7" cy="751.8" r="2.55"/>
<circle class="dot" cx="1314" cy="761" r="2.55"/>
<circle class="dot" cx="1325" cy="770.1" r="2.55"/>
<circle class="dot" cx="1267.1" cy="779.3" r="2.55"/>
<circle class="dot" cx="1326.3" cy="788.4" r="2.55"/>
<circle class="dot" cx="1374.5" cy="797.5" r="2.55"/>
<circle class="dot" cx="1370.6" cy="806.7" r="2.55"/>
<circle class="dot" cx="1338.9" cy="815.8" r="2.55"/>
<circle class="dot" cx="1270.7" cy="825" r="2.55"/>
<circle class="dot" cx="1285.6" cy="834.1" r="2.55"/>
<circle class="dot" cx="1291.8" cy="843.2" r="2.55"/>
<circle class="dot" cx="1390.5" cy="852.4" r="2.55"/>
<circle class="dot" cx="1284.9" cy="861.5" r="2.55"/>
<circle class="dot" cx="1330.2" cy="870.7" r="2.55"/>
<circle class="dot" cx="1299.9" cy="879.8" r="2.55"/>
<circle class="dot" cx="1375.7" cy="889" r="2.55"/>
<circle class="dot" cx="1351.6" cy="898.1" r="2.55"/>
<circle class="dot" cx="1366.1" cy="907.2" r="2.55"/>
<circle class="dot" cx="1293.5" cy="916.4" r="2.55"/>
<circle class="dot" cx="1277.9" cy="925.5" r="2.55"/>
<circle class="dot" cx="1374.1" cy="934.7" r="2.55"/>
<circle class="dot" cx="1365.3" cy="943.8" r="2.55"/>
<circle class="dot" cx="1388" cy="952.9" r="2.55"/>
<circle class="dot" cx="1344.1" cy="962.1" r="2.55"/>
<circle class="dot" cx="1271" cy="971.2" r="2.55"/>
<circle class="dot" cx="1296.8" cy="980.4" r="2.55"/>
<circle class="dot" cx="1358.9" cy="989.5" r="2.55"/>
<circle class="dot" cx="1329.7" cy="998.7" r="2.55"/>
<circle class="dot" cx="1264.4" cy="1007.8" r="2.55"/>
<circle class="dot" cx="1359.8" cy="1016.9" r="2.55"/>
<circle class="dot" cx="1318.1" cy="1026.1" r="2.55"/>
<circle class="dot" cx="1365.1" cy="1035.2" r="2.55"/>
<circle class="dot" cx="1306.1" cy="1044.4" r="2.55"/>
<circle class="dot" cx="1303.5" cy="1053.5" r="2.55"/>
</g>
<text class="t" x="1389" y="1088.5" font-size="11.6" text-anchor="middle">Speed(km<tspan dy="-4" font-size="7.5">2</tspan><tspan dy="4">/year)</tspan></text>
</g>
</svg></body></html>
